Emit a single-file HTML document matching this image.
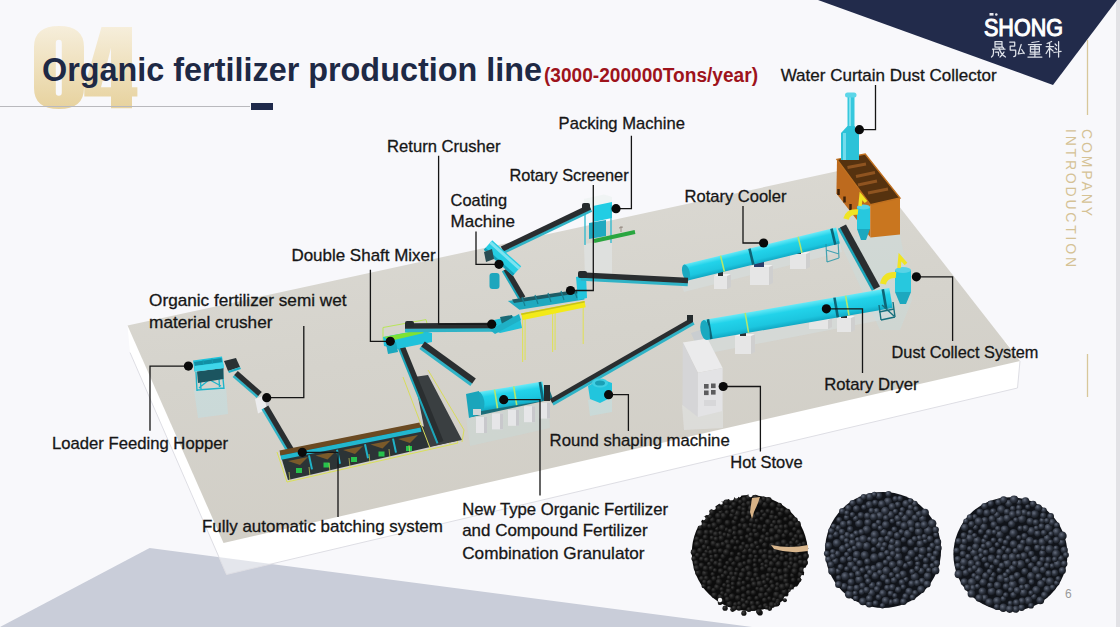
<!DOCTYPE html>
<html><head><meta charset="utf-8"><title>Organic fertilizer production line</title>
<style>
html,body{margin:0;padding:0;background:#f8f8fb;}
body{width:1120px;height:627px;overflow:hidden;position:relative;font-family:"Liberation Sans",sans-serif;}
svg{position:absolute;left:0;top:0;display:block;}
</style></head>
<body>
<svg width="1120" height="627" viewBox="0 0 1120 627" font-family="Liberation Sans, sans-serif">
<defs>
  <linearGradient id="gold" x1="0" y1="0" x2="0" y2="1">
    <stop offset="0" stop-color="#f6eedb"/>
    <stop offset="1" stop-color="#e7d29e"/>
  </linearGradient>
  <linearGradient id="plat" x1="0" y1="0" x2="0.3" y2="1">
    <stop offset="0" stop-color="#dddbd5"/>
    <stop offset="0.55" stop-color="#d5d3cc"/>
    <stop offset="1" stop-color="#d1cec6"/>
  </linearGradient>
  <radialGradient id="gA" cx="0.38" cy="0.35" r="0.7">
    <stop offset="0" stop-color="#3e3e3e"/><stop offset="0.55" stop-color="#1a1a1a"/><stop offset="1" stop-color="#0a0a0a"/>
  </radialGradient>
  <radialGradient id="gB" cx="0.38" cy="0.35" r="0.7">
    <stop offset="0" stop-color="#646c7c"/><stop offset="0.5" stop-color="#2e3440"/><stop offset="1" stop-color="#111419"/>
  </radialGradient>
</defs>

<!-- background -->
<rect width="1120" height="627" fill="#f8f8fb"/>
<rect x="1116" y="0" width="4" height="627" fill="#e2e2e6"/>

<!-- bottom-left gray-blue shape -->
<clipPath id="bgclip"><polygon points="149.6,548 752,627 0,627"/></clipPath>
<polygon points="149.6,548 752,627 0,627" fill="#c9cdd9"/>

<!-- navy triangle -->
<polygon points="818,0 1117,0 1053,85" fill="#222b4b"/>

<!-- gold vertical line -->
<line x1="1087.5" y1="40" x2="1087.5" y2="115" stroke="#d8c79a" stroke-width="1.3"/>
<line x1="1087.5" y1="354" x2="1087.5" y2="397" stroke="#d8c79a" stroke-width="1.3"/>
<g fill="#d5c295" font-size="14" letter-spacing="3">
  <text transform="translate(1082,129) rotate(90)" textLength="90">COMPANY</text>
  <text transform="translate(1065.5,129) rotate(90)" textLength="141">INTRODUCTION</text>
</g>

<!-- 04 -->
<g fill="url(#gold)">
  <path fill-rule="evenodd" d="M34,47 Q34,26 59,26 Q84,26 84,47 L84,88 Q84,109 59,109 Q34,109 34,88 Z M55.8,43 Q55.8,39.7 58.8,39.7 Q61.8,39.7 61.8,43 L61.8,92.5 Q61.8,95.8 58.8,95.8 Q55.8,95.8 55.8,92.5 Z"/>
  <path fill-rule="evenodd" d="M101.5,27 L132,27 L132,87.3 L137.4,87.3 L137.4,96.6 L132,96.6 L132,108.3 L111,108.3 L111,96.6 L84.3,96.6 L84.3,87.3 Z M111,47.8 L111,87.3 L101,87.3 Z"/>
</g>

<!-- title -->
<text x="42" y="80.5" font-size="34" font-weight="bold" fill="#1e2945" textLength="500" lengthAdjust="spacingAndGlyphs">Organic fertilizer production line</text>
<text x="544" y="81.5" font-size="20" font-weight="bold" fill="#9e131b" textLength="214" lengthAdjust="spacingAndGlyphs">(3000-200000Tons/year)</text>

<!-- rule -->
<line x1="0" y1="106.5" x2="250" y2="106.5" stroke="#b9b9bd" stroke-width="1"/>
<rect x="251" y="103" width="22" height="7" fill="#1f2a4b"/>

<!-- logo -->
<g fill="#ffffff">
  <text x="984" y="36" font-size="24" textLength="79" lengthAdjust="spacingAndGlyphs" stroke="#ffffff" stroke-width="1.1">SHONG</text>
  <rect x="989.5" y="13" width="4" height="2.6" fill="#e8e8ee"/><circle cx="996.3" cy="14.5" r="1.3" fill="#e8e8ee"/>
</g>
<g fill="none" stroke="#dfe3ea" stroke-width="1.25" stroke-linecap="round" stroke-linejoin="round">
  <g transform="translate(990.5,41)">
    <path d="M4.5,0.5 H11.5 V6 H4.5 Z M4.5,3.2 H11.5"/>
    <path d="M2,8.2 H14.5 M3,8.2 V12 Q3,14.5 1,16 M5,11 H8 V14.5 M8.5,7 Q10,13 15,16 M13.5,11 Q12,14 9.5,16 M12,6 L13,7"/>
  </g>
  <g transform="translate(1008.7,41)">
    <path d="M1,1 H6 V5 H1.5 V9 H7 V13.5 Q7,15.5 5,15.5"/>
    <path d="M12.5,3.5 L9.5,13 L15.5,12 M13,8.5 L15.5,12.5"/>
  </g>
  <g transform="translate(1026.9,41)">
    <path d="M5,1.5 L12,0.5 M1.5,3.5 H14.5 M3.5,5.5 H12.5 V11 H3.5 Z M3.5,8.2 H12.5 M8,3.5 V15 M3,13 H13 M1,16 H15"/>
  </g>
  <g transform="translate(1045.1,41)">
    <path d="M6.5,0.5 L2,2.5 M1,5.5 H8.5 M4.5,2 V16 M4.5,6.5 L1,12.5 M5,7.5 L8,10"/>
    <path d="M10,3 L11.5,4.5 M10,7 L11.5,8.5 M8.8,11.5 L16,10.3 M13.5,0.5 V16"/>
  </g>
</g>

<!-- PLATFORM -->
<g id="platform">
  <!-- white slab faces -->
  <polygon points="127.5,325.6 130,352.5 226.5,574.5 1017.5,388 1020,361 1005.5,341" fill="#ffffff"/>
  <polygon points="127.5,325.6 130,352.5 226.5,574.5 1017.5,388 1020,361 1005.5,341" fill="#c9cdd9" opacity="0.5" clip-path="url(#bgclip)"/>
  <polyline points="130,352.5 226.5,574.5 1017.5,388 1020,361" fill="none" stroke="#dedee4" stroke-width="1"/>
  <!-- top face -->
  <polygon points="127.5,325.6 866.7,164.8 1020,361 223.5,543" fill="url(#plat)"/>
</g>

<g id="mach">
<polygon points="194,390 226,386 228,414 198,418" fill="#bfe3e8" opacity="0.45"/>
<polygon points="466,418 548,402 550,428 470,446" fill="#bfe3e8" opacity="0.25"/>
<polygon points="588,400 612,396 612,412 590,416" fill="#bfe3e8" opacity="0.5"/>
<polygon points="584,244 612,240 612,275 585,280" fill="#e6eeef" opacity="0.45"/>
<polygon points="682,405 723,411 723,428 684,430" fill="#e2e4e4" opacity="0.6"/>
<polygon points="690,342 890,306 892,318 694,356" fill="#d6e0e2" opacity="0.5"/>
<polygon points="680,282 840,243 842,252 684,292" fill="#d6e0e2" opacity="0.5"/>
<polygon points="838,238 900,234 912,300 900,330 880,330" fill="#c4e0e4" opacity="0.3"/>
<path d="M196,372 L197,391 M200,372 L201,390 M222,368 L224,389 M218.5,369 L219.5,387 M199,374 L221,386 M221,370 L199,388 M197,390 L224,388" stroke="#1eb4ca" stroke-width="1.4" fill="none"/>
<polygon points="197,371.5 223.5,368 223.5,379 198,383" fill="#1b5560"/>
<polygon points="193,360.5 222,356.5 224,368 194.5,371.5" fill="#1ec3db"/>
<polygon points="194,362 221.5,358 222,362 195,366" fill="#128fa5"/>
<path d="M203,360 L204,369 M212,358.5 L213,368" stroke="#129fb4" stroke-width="1"/>
<polygon points="194.5,366 223,362.5 224,368 194.5,371.5" fill="#3fd6ea"/>
<polygon points="224,361 236,358 240,367 228,371" fill="#2a3235"/>
<polygon points="228,371 240,367 241,369 229,373" fill="#1eaec4"/>
<polygon points="234.6,374.7 258.6,395.7 256.6,397.9 232.6,376.9" fill="#30b3c6"/><polygon points="237.8,371 261.8,392 258.2,396 234.2,375" fill="#2a2e30"/>
<polygon points="255,399 264,395.5 267,409 258,413.5" fill="#ececee"/>
<polygon points="264,395.5 269,397.5 270,411 267,409" fill="#c6c6ca"/>
<polygon points="264.1,408.1 290.1,452.1 287.5,453.6 261.5,409.6" fill="#30b3c6"/><polygon points="268.3,405.6 294.3,449.6 289.7,452.4 263.7,408.4" fill="#2a2e30"/>
<polygon points="280,453 420,425 456,441 288,480" fill="#2c3436"/>
<polygon points="279.5,450.5 419.5,422.5 420.5,427.5 280.5,455.5" fill="#6b4a22"/>
<polygon points="280.5,455.4 420.5,427.4 421.4,431.8 281.4,459.8" fill="#22b7ce"/>
<polygon points="288,461 308,457 300,465" fill="#7a5a2a"/>
<rect x="296" y="468" width="6" height="5" fill="#27c24c"/>
<polygon points="315.5,455.5 335.5,451.5 327.5,459.5" fill="#7a5a2a"/>
<rect x="323.5" y="462.5" width="6" height="5" fill="#27c24c"/>
<polygon points="343,450 363,446 355,454" fill="#7a5a2a"/>
<rect x="351" y="457" width="6" height="5" fill="#27c24c"/>
<polygon points="370.5,444.5 390.5,440.5 382.5,448.5" fill="#7a5a2a"/>
<rect x="378.5" y="451.5" width="6" height="5" fill="#27c24c"/>
<polygon points="398,439 418,435 410,443" fill="#7a5a2a"/>
<rect x="406" y="446" width="6" height="5" fill="#27c24c"/>
<path d="M309,455.4 L312,469.4" stroke="#1fb2c8" stroke-width="2"/>
<path d="M337,449.8 L340,463.8" stroke="#1fb2c8" stroke-width="2"/>
<path d="M365,444.2 L368,458.2" stroke="#1fb2c8" stroke-width="2"/>
<path d="M393,438.6 L396,452.6" stroke="#1fb2c8" stroke-width="2"/>
<polyline points="277,452 287,482 458,443 452,430" fill="none" stroke="#d9e05a" stroke-width="1"/>
<path d="M290,481 L289,472 M310,476 L309,467 M330,472 L329,463 M350,467 L349,458 M370,463 L369,454 M390,458 L389,449 M410,454 L409,445 M430,449 L429,440 M450,445 L449,436" stroke="#d9e05a" stroke-width="0.8" opacity="0.8"/>
<polygon points="414,377 428,375 462,440 428,447" fill="#3a3f41"/>
<polyline points="403,377 430,448" fill="none" stroke="#d8dc5c" stroke-width="1"/>
<polyline points="428,370 464,430 462,442" fill="none" stroke="#d8dc5c" stroke-width="1"/>
<polygon points="398,341.8 439,442.8 436.6,443.8 395.6,342.8" fill="#1ca6ba"/><polygon points="402.5,340 443.5,441 438.5,443 397.5,342" fill="#2a2e30"/>
<polyline points="383,341 383,327.5 426,319.6 429,331" fill="none" stroke="#b9e55a" stroke-width="1"/>
<polygon points="383,337 420,330 432,333 432,342 397,349 384,346" fill="#20c2db"/>
<polygon points="384,337 420,330 424,333 390,341" fill="#7fe233"/>
<polygon points="386,344 396,342 398,352 388,354" fill="#1ba8be"/>
<polygon points="421.4,346.1 472.4,383.1 470.4,386 419.4,349" fill="#30b3c6"/><polygon points="424.8,341.5 475.8,378.5 472.2,383.5 421.2,346.5" fill="#2a2e30"/>
<polygon points="405,328.2 497,327.7 497,331.7 405,332.2" fill="#30b3c6"/><polygon points="405,323.3 497,322.8 497,328.2 405,328.7" fill="#2a2e30"/>
<rect x="405" y="321" width="9" height="6" rx="2" fill="#252b2d"/>
<polygon points="494,320 512,316 520,318 522,328 500,333 495,331" fill="#21c0d8"/>
<polygon points="500,317 512,315 514,322 502,324" fill="#1b6a76"/>
<polygon points="468,408 550,391 553,399 472,417" fill="#1b6d79"/>
<rect x="476" y="417" width="11" height="16" fill="#e6e6e8"/><rect x="484" y="417" width="3" height="16" fill="#c8c8cc"/>
<rect x="492" y="413.4" width="11" height="16" fill="#e6e6e8"/><rect x="500" y="413.4" width="3" height="16" fill="#c8c8cc"/>
<rect x="508" y="409.8" width="11" height="16" fill="#e6e6e8"/><rect x="516" y="409.8" width="3" height="16" fill="#c8c8cc"/>
<rect x="524" y="406.2" width="11" height="16" fill="#e6e6e8"/><rect x="532" y="406.2" width="3" height="16" fill="#c8c8cc"/>
<rect x="539" y="402.6" width="11" height="16" fill="#e6e6e8"/><rect x="547" y="402.6" width="3" height="16" fill="#c8c8cc"/>
<linearGradient id="cg1" gradientUnits="userSpaceOnUse" x1="510.5" y1="386.9" x2="513.5" y2="405.6"><stop offset="0" stop-color="#66e9f7"/><stop offset="0.3" stop-color="#22d3ea"/><stop offset="0.75" stop-color="#1cc6df"/><stop offset="1" stop-color="#11a9c4"/></linearGradient><polygon points="478.5,392.1 542.5,381.6 545.5,400.4 481.5,410.9" fill="url(#cg1)"/><polygon points="495.3,389.4 498.3,408.1 496.7,408.4 493.7,389.6" fill="#b5e86a"/><polygon points="514.5,386.2 517.5,405 515.9,405.2 512.9,386.5" fill="#b5e86a"/><polygon points="541.2,381.8 544.3,400.6 541.7,401 538.6,382.3" fill="#0d6577"/><ellipse cx="480" cy="401.5" rx="4.3" ry="9.5" transform="rotate(-9.3 480 401.5)" fill="#1aa9c0"/>
<polygon points="466,394 479,391 481,414 469,418" fill="#1aa5bb"/>
<rect x="473" y="409" width="8" height="6" fill="#d0d6d8"/>
<rect x="544" y="385" width="6" height="16" fill="#252b2d"/>
<polygon points="551.9,402.5 692.9,321.5 694.6,324.6 553.6,405.6" fill="#30b3c6"/><polygon points="549.9,399 690.9,318 693.1,322 552.1,403" fill="#2a2e30"/>
<rect x="687" y="315" width="6" height="7" fill="#252b2d"/>
<polygon points="588,386 601,379 612,383 612,397 600,403 590,399" fill="#22c5dd"/>
<ellipse cx="600" cy="383" rx="8" ry="4.5" fill="#3fcfe3"/>
<ellipse cx="600" cy="383" rx="5" ry="2.6" fill="#1a9fb5"/>
<polygon points="691,333 706,328 710,336 695,342" fill="#c9cdd0"/>
<polygon points="682.8,342.5 707.5,338.6 722.6,368 697.9,372.8" fill="#ebebec"/>
<polygon points="682.8,342.5 697.9,372.8 697.9,417 682.5,405" fill="#d5d5d7"/>
<polygon points="697.9,372.8 722.6,368 722.6,411 697.9,417" fill="#e3e3e5"/>
<rect x="704" y="384" width="4.6" height="4.6" fill="#5c5c5e"/>
<rect x="711" y="383.5" width="4.6" height="4.6" fill="#5c5c5e"/>
<rect x="704" y="390.5" width="4.6" height="4.6" fill="#5c5c5e"/>
<rect x="711" y="390" width="4.6" height="4.6" fill="#5c5c5e"/>
<rect x="704" y="400" width="12" height="6" fill="#cfcfd1" opacity="0.6"/>
<rect x="735" y="336" width="16" height="18" fill="#e6e6e6"/><polygon points="751,336 755,334 755,352 751,354" fill="#cfcfcf"/><polygon points="735,336 739,334 755,334 751,336" fill="#f2f2f2"/>
<rect x="809" y="320" width="19" height="9" fill="#e6e6e6"/><polygon points="828,320 832,318 832,327 828,329" fill="#cfcfcf"/><polygon points="809,320 813,318 832,318 828,320" fill="#f2f2f2"/>
<rect x="837" y="318" width="14" height="14" fill="#e6e6e6"/><polygon points="851,318 855,316 855,330 851,332" fill="#cfcfcf"/><polygon points="837,318 841,316 855,316 851,318" fill="#f2f2f2"/>
<rect x="740" y="332" width="6" height="4" fill="#2b3033"/><rect x="841" y="314" width="6" height="4" fill="#2b3033"/>
<linearGradient id="cg2" gradientUnits="userSpaceOnUse" x1="796.3" y1="304.1" x2="799.7" y2="323.9"><stop offset="0" stop-color="#66e9f7"/><stop offset="0.3" stop-color="#22d3ea"/><stop offset="0.75" stop-color="#1cc6df"/><stop offset="1" stop-color="#11a9c4"/></linearGradient><polygon points="703.3,320.1 889.3,288.1 892.7,307.9 706.7,339.9" fill="url(#cg2)"/><polygon points="745.9,312.8 749.3,332.5 747.8,332.8 744.4,313.1" fill="#b5e86a"/><polygon points="846.4,295.5 849.8,315.2 848.2,315.5 844.8,295.8" fill="#b5e86a"/><polygon points="709.2,319.1 712.6,338.8 710.1,339.3 706.7,319.6" fill="#0d6577"/><polygon points="835.7,297.4 839.1,317.1 836.5,317.5 833.2,297.8" fill="#0d6577"/><polygon points="884.1,289 887.5,308.8 884.9,309.2 881.5,289.5" fill="#0d6577"/><ellipse cx="705" cy="330" rx="4.5" ry="10" transform="rotate(-9.8 705 330)" fill="#1aa9c0"/>
<path d="M879,305 L881,320 M893,302 L895,317 M881,320 L895,317 M879,312 L894,309 M882,305 L894,316" stroke="#16707d" stroke-width="1.4" fill="none"/>
<rect x="714" y="276" width="13" height="13" fill="#e6e6e6"/><polygon points="727,276 731,274 731,287 727,289" fill="#cfcfcf"/><polygon points="714,276 718,274 731,274 727,276" fill="#f2f2f2"/>
<rect x="750" y="267" width="19" height="18" fill="#e6e6e6"/><polygon points="769,267 773,265 773,283 769,285" fill="#cfcfcf"/><polygon points="750,267 754,265 773,265 769,267" fill="#f2f2f2"/>
<rect x="790" y="254" width="16" height="15" fill="#e6e6e6"/><polygon points="806,254 810,252 810,267 806,269" fill="#cfcfcf"/><polygon points="790,254 794,252 810,252 806,254" fill="#f2f2f2"/>
<rect x="754" y="262" width="10" height="5" fill="#2b3d6a"/><rect x="794" y="250" width="7" height="4" fill="#2b3033"/><rect x="718" y="272" width="5" height="4" fill="#2b3033"/>
<linearGradient id="cg3" gradientUnits="userSpaceOnUse" x1="760.1" y1="246" x2="763.9" y2="262"><stop offset="0" stop-color="#66e9f7"/><stop offset="0.3" stop-color="#22d3ea"/><stop offset="0.75" stop-color="#1cc6df"/><stop offset="1" stop-color="#11a9c4"/></linearGradient><polygon points="684.1,264.5 836.1,227.5 839.9,243.5 687.9,280.5" fill="url(#cg3)"/><polygon points="721.3,255.5 725.2,271.4 723.6,271.8 719.8,255.8" fill="#b5e86a"/><polygon points="798.8,236.6 802.7,252.5 801.2,252.9 797.3,237" fill="#b5e86a"/><polygon points="750.7,248.3 754.6,264.2 752,264.9 748.2,248.9" fill="#0d6577"/><polygon points="832.8,228.3 836.6,244.3 834.1,244.9 830.2,229" fill="#0d6577"/><ellipse cx="686" cy="272.5" rx="3.7" ry="8.2" transform="rotate(-13.7 686 272.5)" fill="#1aa9c0"/>
<path d="M826,244 L827,262 M838,241 L839,258 M827,262 L839,258 M826,250 L839,254" stroke="#1d94a8" stroke-width="1.2" fill="none" opacity="0.8"/>
<polygon points="840.5,227.4 874.5,289.4 871.8,290.8 837.8,228.8" fill="#1ca6ba"/><polygon points="846,224.4 880,286.4 874,289.6 840,227.6" fill="#2a2e30"/>
<polygon points="837,159.4 870.5,204.8 870.5,237.4 836.4,193.5" fill="#bd6a1e"/>
<polygon points="870.5,204.8 900,198 900,234.4 870.5,237.4" fill="#c9761f"/>
<polygon points="837,159.4 865.2,154.1 900,198 870.5,204.8" fill="#56320f"/>
<path d="M847.5,167.5 L866,164 M856,176.5 L875,172.5 M858,185 L877,181 M868,193 L888,189" stroke="#8f5420" stroke-width="3"/>
<polygon points="837,159.4 865.2,154.1 900,198 870.5,204.8" fill="none" stroke="#c0701f" stroke-width="1.4"/>
<path d="M838.5,189 v6 M844.5,196.5 v6 M850.5,204 v6" stroke="#3e220a" stroke-width="2.5"/>
<rect x="847.5" y="97" width="7" height="30" fill="#37c8dd"/>
<rect x="849" y="97" width="2" height="30" fill="#7fe0ee"/>
<rect x="845" y="92.5" width="11.5" height="5" rx="2.5" fill="#5dd6e8"/>
<polygon points="847.5,126 854.5,126 859,133 859,160 841,160 841,133" fill="#2cc2d8"/>
<rect x="843" y="133" width="3" height="27" fill="#72dced"/>
<rect x="857" y="207" width="13" height="22" fill="#27c8de"/>
<ellipse cx="863.5" cy="207" rx="6.5" ry="2.5" fill="#58d3e6"/>
<polygon points="857,229 870,229 866,240 861,240" fill="#1ca8bf"/>
<path d="M846,219 Q848,211 858,212" stroke="#f0e424" stroke-width="5.5" fill="none"/>
<path d="M860,206 L861,196 L866,202" stroke="#f0e424" stroke-width="3.5" fill="none"/>
<rect x="895" y="270" width="16" height="22" fill="#27c8de"/>
<ellipse cx="903" cy="270" rx="8" ry="3" fill="#58d3e6"/>
<polygon points="895,292 911,292 906,304 900,304" fill="#1ca8bf"/>
<path d="M883,284 Q885,274 896,275" stroke="#f0e424" stroke-width="6" fill="none"/>
<path d="M899,268 L900,257 L906,264" stroke="#f0e424" stroke-width="3.5" fill="none"/>
<polygon points="584,199 604,194.5 612,197 612,205 592,209 584,207" fill="#eef3f3" opacity="0.9"/>
<polygon points="593,206 612,202 612,218 593,222" fill="#22cde4"/>
<polygon points="589,223 606,220 606,236 589,239" fill="#20a9c0"/>
<path d="M585,208 L585,245 M611,205 L611,243" stroke="#2ab8cd" stroke-width="1.3"/>
<polygon points="593.6,239 634.6,230 635.4,234 594.4,243" fill="#2aa640"/>
<path d="M621,232 L621,226 M619,228 L623,227" stroke="#9a8f86" stroke-width="1"/>
<polygon points="502.9,251 590.9,209 592.2,211.7 504.2,253.7" fill="#30b3c6"/><polygon points="500.8,246.6 588.8,204.6 591.2,209.4 503.2,251.4" fill="#2a2e30"/>
<rect x="582" y="203" width="8" height="7" rx="2" fill="#252b2d"/>
<polygon points="504.1,270.1 521.1,299.1 518.9,300.4 501.9,271.4" fill="#1ca6ba"/><polygon points="508.3,267.6 525.3,296.6 520.7,299.4 503.7,270.4" fill="#2a2e30"/>
<polygon points="492.2,240.3 521.2,266.3 512.8,275.7 483.8,249.7" fill="#26cde3"/>
<polygon points="491.3,241.3 520.3,267.3 518.3,269.5 489.3,243.5" fill="#7de3f0"/>
<polygon points="485.5,247.8 514.5,273.8 512.8,275.7 483.8,249.7" fill="#159fb6"/>
<rect x="489.5" y="273" width="10" height="16" rx="3" fill="#1ea6bd"/>
<polygon points="484,252 492,249 494,259 486,262" fill="#2a4c52"/>
<polygon points="507.9,300.9 581.9,289.4 584.5,299.6 519.4,309.8" fill="#1fa9bf"/>
<polygon points="512,299.5 579,289.5 580,293 514,303" fill="#1d5c66"/>
<path d="M522,297 L525,306 M535,295 L538,304 M548,293 L551,302 M561,291 L564,300 M574,289 L577,298" stroke="#177f90" stroke-width="1.2"/>
<polygon points="576,277 586,275 587,298 578,300" fill="#22c5dd"/>
<path d="M522.6,316 L522.6,362 M525.1,316 L525.1,360 M552.6,310 L552.6,352 M555.1,310 L555.1,350 M583.2,304 L583.2,344" stroke="#dfe05e" stroke-width="1.1"/>
<polygon points="521,313.6 584.5,300.9 585.7,307.2 523,320" fill="#f3ea17"/>
<polygon points="521,313.6 584.5,300.9 584.7,302.5 521.5,315" fill="#c7c21a"/>
<polygon points="490,330 519,314 521,320 495,334" fill="#1fb0c6"/>
<polygon points="580.9,277.2 687.9,282.7 687.7,286.2 580.7,280.7" fill="#30b3c6"/><polygon points="581.1,272.3 688.1,277.8 687.9,283.2 580.9,277.7" fill="#2a2e30"/>
<rect x="578" y="271" width="9" height="7" rx="2" fill="#252b2d"/>
</g>
<g id="lead">
<polyline points="859.4,129.7 875.5,129.7 875.5,85" fill="none" stroke="#151515" stroke-width="1.3"/>
<circle cx="859.4" cy="129.7" r="4.6" fill="#0a0a0a"/>
<polyline points="616,208.7 631.4,208.7 631.4,135.7" fill="none" stroke="#151515" stroke-width="1.3"/>
<circle cx="616" cy="208.7" r="4.6" fill="#0a0a0a"/>
<polyline points="491.7,324.2 438.6,324.2 438.6,155.7" fill="none" stroke="#151515" stroke-width="1.3"/>
<circle cx="491.7" cy="324.2" r="4.6" fill="#0a0a0a"/>
<polyline points="570.5,290.5 593.3,290.5 593.3,185" fill="none" stroke="#151515" stroke-width="1.3"/>
<circle cx="570.5" cy="290.5" r="4.6" fill="#0a0a0a"/>
<polyline points="499,264.3 476,264.3 476,231.4" fill="none" stroke="#151515" stroke-width="1.3"/>
<circle cx="499" cy="264.3" r="4.6" fill="#0a0a0a"/>
<polyline points="763.6,243 743,243 743,206" fill="none" stroke="#151515" stroke-width="1.3"/>
<circle cx="763.6" cy="243" r="4.6" fill="#0a0a0a"/>
<polyline points="390.3,341.3 370.4,341.3 370.4,269.7" fill="none" stroke="#151515" stroke-width="1.3"/>
<circle cx="390.3" cy="341.3" r="4.6" fill="#0a0a0a"/>
<polyline points="266.7,397.7 303.8,397.7 303.8,326" fill="none" stroke="#151515" stroke-width="1.3"/>
<circle cx="266.7" cy="397.7" r="4.6" fill="#0a0a0a"/>
<polyline points="188.4,366.1 150,366.1 150,430.7" fill="none" stroke="#151515" stroke-width="1.3"/>
<circle cx="188.4" cy="366.1" r="4.6" fill="#0a0a0a"/>
<polyline points="302.3,452.3 338,452.3 338,517" fill="none" stroke="#151515" stroke-width="1.3"/>
<circle cx="302.3" cy="452.3" r="4.6" fill="#0a0a0a"/>
<polyline points="503.7,399.7 540,399.7 540,495.5" fill="none" stroke="#151515" stroke-width="1.3"/>
<circle cx="503.7" cy="399.7" r="4.6" fill="#0a0a0a"/>
<polyline points="608.6,394.7 628.4,394.7 628.4,431" fill="none" stroke="#151515" stroke-width="1.3"/>
<circle cx="608.6" cy="394.7" r="4.6" fill="#0a0a0a"/>
<polyline points="723.2,386.5 760.4,386.5 760.4,451.5" fill="none" stroke="#151515" stroke-width="1.3"/>
<circle cx="723.2" cy="386.5" r="4.6" fill="#0a0a0a"/>
<polyline points="826.4,308.8 862.5,308.8 862.5,373" fill="none" stroke="#151515" stroke-width="1.3"/>
<circle cx="826.4" cy="308.8" r="4.6" fill="#0a0a0a"/>
<polyline points="916.4,276.8 952.6,276.8 952.6,341" fill="none" stroke="#151515" stroke-width="1.3"/>
<circle cx="916.4" cy="276.8" r="4.6" fill="#0a0a0a"/>
</g>
<g id="lab" font-size="17" fill="#161616" stroke="#161616" stroke-width="0.3">
<text x="780.7" y="81.1" textLength="216" lengthAdjust="spacingAndGlyphs">Water Curtain Dust Collector</text>
<text x="558.6" y="129.1" textLength="126.3" lengthAdjust="spacingAndGlyphs">Packing Machine</text>
<text x="387.1" y="152.3" textLength="113.5" lengthAdjust="spacingAndGlyphs">Return Crusher</text>
<text x="509.4" y="180.6" textLength="119.2" lengthAdjust="spacingAndGlyphs">Rotary Screener</text>
<text x="450.6" y="206.3" textLength="56.5" lengthAdjust="spacingAndGlyphs">Coating</text>
<text x="450.6" y="227.1" textLength="64.3" lengthAdjust="spacingAndGlyphs">Machine</text>
<text x="684.5" y="201.5" textLength="102" lengthAdjust="spacingAndGlyphs">Rotary Cooler</text>
<text x="291.4" y="261.4" textLength="144.3" lengthAdjust="spacingAndGlyphs">Double Shaft Mixer</text>
<text x="149.1" y="306.4" textLength="197.4" lengthAdjust="spacingAndGlyphs">Organic fertilizer semi wet</text>
<text x="149.1" y="328.2" textLength="123.4" lengthAdjust="spacingAndGlyphs">material crusher</text>
<text x="52" y="448.8" textLength="176" lengthAdjust="spacingAndGlyphs">Loader Feeding Hopper</text>
<text x="202" y="532.3" textLength="240.9" lengthAdjust="spacingAndGlyphs">Fully automatic batching system</text>
<text x="549.6" y="446.4" textLength="180.1" lengthAdjust="spacingAndGlyphs">Round shaping machine</text>
<text x="730.3" y="468.2" textLength="72.3" lengthAdjust="spacingAndGlyphs">Hot Stove</text>
<text x="462.2" y="514.8" textLength="205.8" lengthAdjust="spacingAndGlyphs">New Type Organic Fertilizer</text>
<text x="462.2" y="536.4" textLength="185.5" lengthAdjust="spacingAndGlyphs">and Compound Fertilizer</text>
<text x="462.2" y="558.9" textLength="182.3" lengthAdjust="spacingAndGlyphs">Combination Granulator</text>
<text x="824.2" y="390.4" textLength="94.5" lengthAdjust="spacingAndGlyphs">Rotary Dryer</text>
<text x="891.6" y="358" textLength="146.8" lengthAdjust="spacingAndGlyphs">Dust Collect System</text>
</g>
<!-- granule circles -->
<circle cx="749.8" cy="553" r="58" fill="#0c0c0c"/>
<circle cx="784.4" cy="591.9" r="3.1" fill="url(#gA)"/>
<circle cx="748.5" cy="592.7" r="2.8" fill="url(#gA)"/>
<circle cx="720.7" cy="512.1" r="2.4" fill="url(#gA)"/>
<circle cx="800.6" cy="562.2" r="2.8" fill="url(#gA)"/>
<circle cx="750" cy="550.4" r="2.8" fill="url(#gA)"/>
<circle cx="745" cy="526.4" r="3.3" fill="url(#gA)"/>
<circle cx="757.8" cy="547.3" r="2.3" fill="url(#gA)"/>
<circle cx="696.9" cy="538.9" r="2.7" fill="url(#gA)"/>
<circle cx="757.4" cy="588.9" r="2.3" fill="url(#gA)"/>
<circle cx="752.7" cy="580" r="2.5" fill="url(#gA)"/>
<circle cx="720.4" cy="560.6" r="2.3" fill="url(#gA)"/>
<circle cx="771.8" cy="517.1" r="3" fill="url(#gA)"/>
<circle cx="771.9" cy="604.8" r="3.2" fill="url(#gA)"/>
<circle cx="773.4" cy="575.4" r="3.1" fill="url(#gA)"/>
<circle cx="736.6" cy="499.9" r="2.8" fill="url(#gA)"/>
<circle cx="772.1" cy="512.5" r="2.6" fill="url(#gA)"/>
<circle cx="704.6" cy="525.2" r="3.2" fill="url(#gA)"/>
<circle cx="706.5" cy="551.6" r="2.3" fill="url(#gA)"/>
<circle cx="752.1" cy="603.4" r="2.8" fill="url(#gA)"/>
<circle cx="769.3" cy="590.1" r="3.1" fill="url(#gA)"/>
<circle cx="734" cy="522.2" r="2.8" fill="url(#gA)"/>
<circle cx="700" cy="550.4" r="2.9" fill="url(#gA)"/>
<circle cx="718.8" cy="577.6" r="2.3" fill="url(#gA)"/>
<circle cx="795.4" cy="565.8" r="3.4" fill="url(#gA)"/>
<circle cx="720.3" cy="533.4" r="2.5" fill="url(#gA)"/>
<circle cx="693.8" cy="552.2" r="3.1" fill="url(#gA)"/>
<circle cx="772.6" cy="504.9" r="3.1" fill="url(#gA)"/>
<circle cx="764.6" cy="515.1" r="2.9" fill="url(#gA)"/>
<circle cx="737.8" cy="559" r="3.3" fill="url(#gA)"/>
<circle cx="726.9" cy="542.2" r="2.9" fill="url(#gA)"/>
<circle cx="716.2" cy="556.2" r="2.7" fill="url(#gA)"/>
<circle cx="706.5" cy="542.3" r="3" fill="url(#gA)"/>
<circle cx="764.9" cy="504.9" r="3.2" fill="url(#gA)"/>
<circle cx="756.1" cy="556.6" r="2.3" fill="url(#gA)"/>
<circle cx="750.8" cy="524.8" r="2.4" fill="url(#gA)"/>
<circle cx="726.3" cy="529.6" r="2.4" fill="url(#gA)"/>
<circle cx="743" cy="600.2" r="2.8" fill="url(#gA)"/>
<circle cx="732.8" cy="588" r="2.3" fill="url(#gA)"/>
<circle cx="791.4" cy="586.8" r="2.9" fill="url(#gA)"/>
<circle cx="761" cy="595.5" r="3.2" fill="url(#gA)"/>
<circle cx="731.6" cy="515.5" r="2.5" fill="url(#gA)"/>
<circle cx="799.7" cy="545.3" r="2.9" fill="url(#gA)"/>
<circle cx="721.3" cy="538.3" r="3" fill="url(#gA)"/>
<circle cx="778.6" cy="564.1" r="3.4" fill="url(#gA)"/>
<circle cx="772" cy="531" r="3.2" fill="url(#gA)"/>
<circle cx="729.5" cy="603.9" r="3.1" fill="url(#gA)"/>
<circle cx="725.3" cy="567.3" r="2.3" fill="url(#gA)"/>
<circle cx="791.3" cy="543" r="2.5" fill="url(#gA)"/>
<circle cx="787.4" cy="511.8" r="3.1" fill="url(#gA)"/>
<circle cx="715.1" cy="551.1" r="2.7" fill="url(#gA)"/>
<circle cx="756.1" cy="570.1" r="3" fill="url(#gA)"/>
<circle cx="738.4" cy="591.3" r="2.7" fill="url(#gA)"/>
<circle cx="759.6" cy="583.8" r="3.4" fill="url(#gA)"/>
<circle cx="756.5" cy="520.8" r="2.5" fill="url(#gA)"/>
<circle cx="726.2" cy="507" r="3.3" fill="url(#gA)"/>
<circle cx="720.3" cy="597.1" r="3.1" fill="url(#gA)"/>
<circle cx="694" cy="558.5" r="2.6" fill="url(#gA)"/>
<circle cx="747.3" cy="536.8" r="2.5" fill="url(#gA)"/>
<circle cx="771.9" cy="539.2" r="3.1" fill="url(#gA)"/>
<circle cx="733.4" cy="578.7" r="3.3" fill="url(#gA)"/>
<circle cx="706" cy="519.5" r="3.3" fill="url(#gA)"/>
<circle cx="777.5" cy="584.5" r="2.4" fill="url(#gA)"/>
<circle cx="764.6" cy="556.7" r="3.3" fill="url(#gA)"/>
<circle cx="712.4" cy="519.9" r="2.7" fill="url(#gA)"/>
<circle cx="744.2" cy="606" r="2.9" fill="url(#gA)"/>
<circle cx="783.9" cy="535.7" r="2.6" fill="url(#gA)"/>
<circle cx="741.6" cy="538" r="2.4" fill="url(#gA)"/>
<circle cx="786.4" cy="550.3" r="2.4" fill="url(#gA)"/>
<circle cx="763.6" cy="577.1" r="3.1" fill="url(#gA)"/>
<circle cx="743.3" cy="543.8" r="2.3" fill="url(#gA)"/>
<circle cx="780.3" cy="549.6" r="3" fill="url(#gA)"/>
<circle cx="797.4" cy="524.2" r="3.4" fill="url(#gA)"/>
<circle cx="769.9" cy="569.9" r="3" fill="url(#gA)"/>
<circle cx="791.1" cy="547.8" r="3.1" fill="url(#gA)"/>
<circle cx="734.7" cy="528.5" r="2.9" fill="url(#gA)"/>
<circle cx="739.9" cy="579.2" r="2.4" fill="url(#gA)"/>
<circle cx="739" cy="608" r="2.8" fill="url(#gA)"/>
<circle cx="723.6" cy="516" r="3.3" fill="url(#gA)"/>
<circle cx="725.6" cy="572.9" r="2.7" fill="url(#gA)"/>
<circle cx="739.2" cy="583.9" r="2.9" fill="url(#gA)"/>
<circle cx="711.4" cy="532.2" r="2.6" fill="url(#gA)"/>
<circle cx="777.5" cy="556.6" r="2.4" fill="url(#gA)"/>
<circle cx="735.5" cy="548.2" r="2.4" fill="url(#gA)"/>
<circle cx="697.4" cy="555.2" r="2.5" fill="url(#gA)"/>
<circle cx="772.1" cy="545.6" r="3.2" fill="url(#gA)"/>
<circle cx="781.5" cy="578.2" r="3.3" fill="url(#gA)"/>
<circle cx="735.4" cy="604.4" r="2.5" fill="url(#gA)"/>
<circle cx="791.4" cy="524" r="3.3" fill="url(#gA)"/>
<circle cx="766" cy="586.4" r="2.5" fill="url(#gA)"/>
<circle cx="739.7" cy="508" r="2.6" fill="url(#gA)"/>
<circle cx="800.8" cy="574.8" r="3.2" fill="url(#gA)"/>
<circle cx="715.8" cy="563.3" r="2.7" fill="url(#gA)"/>
<circle cx="749.4" cy="561.8" r="3" fill="url(#gA)"/>
<circle cx="712.8" cy="574.3" r="2.4" fill="url(#gA)"/>
<circle cx="736.9" cy="569.6" r="2.4" fill="url(#gA)"/>
<circle cx="713.9" cy="578.7" r="2.6" fill="url(#gA)"/>
<circle cx="790.8" cy="554.9" r="2.9" fill="url(#gA)"/>
<circle cx="727.6" cy="522.9" r="3.1" fill="url(#gA)"/>
<circle cx="723.2" cy="556.6" r="2.8" fill="url(#gA)"/>
<circle cx="699.8" cy="533.1" r="3.3" fill="url(#gA)"/>
<circle cx="786.2" cy="570.6" r="3.3" fill="url(#gA)"/>
<circle cx="776.4" cy="594.7" r="3.3" fill="url(#gA)"/>
<circle cx="732" cy="596.5" r="3.2" fill="url(#gA)"/>
<circle cx="717.1" cy="587.2" r="3.1" fill="url(#gA)"/>
<circle cx="750.4" cy="540.1" r="3" fill="url(#gA)"/>
<circle cx="743" cy="520.4" r="2.9" fill="url(#gA)"/>
<circle cx="733.5" cy="563.6" r="2.6" fill="url(#gA)"/>
<circle cx="719.2" cy="521.4" r="3.2" fill="url(#gA)"/>
<circle cx="743.5" cy="595.8" r="2.6" fill="url(#gA)"/>
<circle cx="780.3" cy="514" r="2.9" fill="url(#gA)"/>
<circle cx="756.7" cy="534.8" r="3.1" fill="url(#gA)"/>
<circle cx="724.3" cy="585.2" r="2.3" fill="url(#gA)"/>
<circle cx="709.5" cy="582.5" r="3.1" fill="url(#gA)"/>
<circle cx="704.4" cy="555.2" r="2.7" fill="url(#gA)"/>
<circle cx="750.8" cy="556.4" r="2.6" fill="url(#gA)"/>
<circle cx="768.1" cy="521.9" r="3.1" fill="url(#gA)"/>
<circle cx="744.4" cy="499.7" r="3.1" fill="url(#gA)"/>
<circle cx="760.3" cy="502.1" r="3.1" fill="url(#gA)"/>
<circle cx="728.6" cy="547" r="3.2" fill="url(#gA)"/>
<circle cx="711.4" cy="556.7" r="2.3" fill="url(#gA)"/>
<circle cx="721.7" cy="589.2" r="2.3" fill="url(#gA)"/>
<circle cx="748" cy="568.4" r="3.2" fill="url(#gA)"/>
<circle cx="728.8" cy="535.7" r="2.9" fill="url(#gA)"/>
<circle cx="785.8" cy="526.7" r="2.6" fill="url(#gA)"/>
<circle cx="705" cy="573.5" r="3.2" fill="url(#gA)"/>
<circle cx="766.3" cy="594.5" r="2.5" fill="url(#gA)"/>
<circle cx="743.8" cy="509.4" r="2.6" fill="url(#gA)"/>
<circle cx="743.5" cy="570.3" r="2.7" fill="url(#gA)"/>
<circle cx="732" cy="553.9" r="2.5" fill="url(#gA)"/>
<circle cx="728.8" cy="591.1" r="3.3" fill="url(#gA)"/>
<circle cx="785.7" cy="519.3" r="2.5" fill="url(#gA)"/>
<circle cx="756.1" cy="543.2" r="2.6" fill="url(#gA)"/>
<circle cx="762.4" cy="564.5" r="2.3" fill="url(#gA)"/>
<circle cx="718.1" cy="515.9" r="3.1" fill="url(#gA)"/>
<circle cx="712" cy="512.2" r="3" fill="url(#gA)"/>
<circle cx="711.9" cy="537.9" r="2.4" fill="url(#gA)"/>
<circle cx="727.9" cy="581.9" r="2.5" fill="url(#gA)"/>
<circle cx="776.6" cy="527.8" r="3" fill="url(#gA)"/>
<circle cx="781.4" cy="597" r="3.2" fill="url(#gA)"/>
<circle cx="761.1" cy="551.9" r="2.9" fill="url(#gA)"/>
<circle cx="730.8" cy="560" r="2.7" fill="url(#gA)"/>
<circle cx="785.9" cy="580.9" r="2.8" fill="url(#gA)"/>
<circle cx="737.3" cy="513.6" r="3.3" fill="url(#gA)"/>
<circle cx="764.8" cy="526.4" r="2.5" fill="url(#gA)"/>
<circle cx="767.9" cy="511.2" r="2.6" fill="url(#gA)"/>
<circle cx="749.4" cy="513" r="2.9" fill="url(#gA)"/>
<circle cx="794.5" cy="529.3" r="2.4" fill="url(#gA)"/>
<circle cx="714.4" cy="594.9" r="3" fill="url(#gA)"/>
<circle cx="774.1" cy="599.5" r="2.3" fill="url(#gA)"/>
<circle cx="748.8" cy="503.4" r="2.9" fill="url(#gA)"/>
<circle cx="762.2" cy="511.6" r="2.3" fill="url(#gA)"/>
<circle cx="748.7" cy="497.3" r="2.9" fill="url(#gA)"/>
<circle cx="799.1" cy="532.2" r="3" fill="url(#gA)"/>
<circle cx="783.9" cy="542.4" r="3.1" fill="url(#gA)"/>
<circle cx="779.9" cy="571.4" r="3" fill="url(#gA)"/>
<circle cx="709.2" cy="588.2" r="2.5" fill="url(#gA)"/>
<circle cx="751.8" cy="520.3" r="2.8" fill="url(#gA)"/>
<circle cx="805.9" cy="556" r="3" fill="url(#gA)"/>
<circle cx="713.5" cy="543.6" r="3.1" fill="url(#gA)"/>
<circle cx="771.4" cy="582.2" r="2.6" fill="url(#gA)"/>
<circle cx="740" cy="525.5" r="2.5" fill="url(#gA)"/>
<circle cx="768" cy="575.1" r="2.4" fill="url(#gA)"/>
<circle cx="737.5" cy="542.1" r="2.5" fill="url(#gA)"/>
<circle cx="726.1" cy="502.2" r="2.7" fill="url(#gA)"/>
<circle cx="717.1" cy="528.9" r="2.3" fill="url(#gA)"/>
<circle cx="755.6" cy="506.7" r="2.3" fill="url(#gA)"/>
<circle cx="792.3" cy="575.5" r="2.4" fill="url(#gA)"/>
<circle cx="770.5" cy="557.1" r="2.7" fill="url(#gA)"/>
<circle cx="791.1" cy="534.7" r="2.6" fill="url(#gA)"/>
<circle cx="740.6" cy="532.7" r="3.3" fill="url(#gA)"/>
<circle cx="778.1" cy="509.3" r="2.7" fill="url(#gA)"/>
<circle cx="801.6" cy="537" r="3" fill="url(#gA)"/>
<circle cx="719" cy="582.1" r="3.3" fill="url(#gA)"/>
<circle cx="701.5" cy="565.5" r="3" fill="url(#gA)"/>
<circle cx="701.6" cy="578.6" r="2.7" fill="url(#gA)"/>
<circle cx="759.7" cy="527.2" r="2.9" fill="url(#gA)"/>
<circle cx="777.2" cy="537.1" r="3.3" fill="url(#gA)"/>
<circle cx="711.1" cy="568.2" r="2.9" fill="url(#gA)"/>
<circle cx="771.4" cy="563.9" r="3.1" fill="url(#gA)"/>
<circle cx="768.4" cy="500.2" r="3.3" fill="url(#gA)"/>
<circle cx="743.4" cy="588.9" r="3" fill="url(#gA)"/>
<circle cx="730.4" cy="569.2" r="3.2" fill="url(#gA)"/>
<circle cx="748.7" cy="586.4" r="2.6" fill="url(#gA)"/>
<circle cx="779.6" cy="522.1" r="2.9" fill="url(#gA)"/>
<circle cx="732.7" cy="542" r="2.9" fill="url(#gA)"/>
<circle cx="793.4" cy="580.1" r="2.5" fill="url(#gA)"/>
<circle cx="764.6" cy="600.1" r="2.7" fill="url(#gA)"/>
<circle cx="754.1" cy="516.6" r="2.6" fill="url(#gA)"/>
<circle cx="698.2" cy="572.8" r="3" fill="url(#gA)"/>
<circle cx="801.4" cy="549.9" r="2.7" fill="url(#gA)"/>
<circle cx="696.1" cy="563" r="2.9" fill="url(#gA)"/>
<circle cx="776.1" cy="517.6" r="2.3" fill="url(#gA)"/>
<circle cx="747.7" cy="578.8" r="2.6" fill="url(#gA)"/>
<circle cx="701.6" cy="559" r="2.6" fill="url(#gA)"/>
<circle cx="762.9" cy="537.1" r="2.8" fill="url(#gA)"/>
<circle cx="760.1" cy="606.6" r="2.3" fill="url(#gA)"/>
<circle cx="744.7" cy="551.3" r="3.1" fill="url(#gA)"/>
<circle cx="715" cy="570.4" r="2.3" fill="url(#gA)"/>
<circle cx="767.5" cy="534.2" r="2.4" fill="url(#gA)"/>
<circle cx="782.3" cy="586.9" r="3.4" fill="url(#gA)"/>
<circle cx="797.2" cy="553.4" r="2.6" fill="url(#gA)"/>
<circle cx="794.5" cy="571.3" r="3.2" fill="url(#gA)"/>
<circle cx="722.9" cy="544.1" r="2.6" fill="url(#gA)"/>
<circle cx="743.8" cy="557" r="2.5" fill="url(#gA)"/>
<circle cx="735.3" cy="538.1" r="2.4" fill="url(#gA)"/>
<circle cx="789.8" cy="590.8" r="2.3" fill="url(#gA)"/>
<circle cx="802" cy="569.8" r="3.1" fill="url(#gA)"/>
<circle cx="754.1" cy="584.2" r="2.9" fill="url(#gA)"/>
<circle cx="715.8" cy="534.1" r="2.9" fill="url(#gA)"/>
<circle cx="755.7" cy="575.1" r="2.7" fill="url(#gA)"/>
<circle cx="734.3" cy="533.3" r="2.7" fill="url(#gA)"/>
<circle cx="739.1" cy="554.3" r="2.4" fill="url(#gA)"/>
<circle cx="748.7" cy="530.1" r="2.9" fill="url(#gA)"/>
<circle cx="805.9" cy="548.6" r="2.4" fill="url(#gA)"/>
<circle cx="709.3" cy="564" r="2.5" fill="url(#gA)"/>
<circle cx="722.2" cy="527.7" r="3.2" fill="url(#gA)"/>
<circle cx="757.8" cy="603.3" r="2.5" fill="url(#gA)"/>
<circle cx="760.1" cy="560.8" r="2.5" fill="url(#gA)"/>
<circle cx="764" cy="530.5" r="2.4" fill="url(#gA)"/>
<circle cx="803.9" cy="543.8" r="2.5" fill="url(#gA)"/>
<circle cx="753.5" cy="592.7" r="2.8" fill="url(#gA)"/>
<circle cx="764.8" cy="545.1" r="2.9" fill="url(#gA)"/>
<circle cx="720.7" cy="571.1" r="2.9" fill="url(#gA)"/>
<circle cx="795.6" cy="559" r="2.8" fill="url(#gA)"/>
<circle cx="786.2" cy="564.2" r="3.1" fill="url(#gA)"/>
<circle cx="701.6" cy="541.4" r="3" fill="url(#gA)"/>
<circle cx="714.2" cy="525.3" r="3.1" fill="url(#gA)"/>
<circle cx="754.9" cy="565.3" r="2.4" fill="url(#gA)"/>
<circle cx="754.7" cy="530.8" r="2.5" fill="url(#gA)"/>
<circle cx="769.4" cy="598.5" r="2.3" fill="url(#gA)"/>
<circle cx="751.2" cy="508.3" r="3.3" fill="url(#gA)"/>
<circle cx="762.5" cy="568.6" r="2.6" fill="url(#gA)"/>
<circle cx="755.4" cy="497.6" r="2.8" fill="url(#gA)"/>
<circle cx="761.7" cy="518.8" r="2.4" fill="url(#gA)"/>
<circle cx="720.4" cy="550.9" r="2.7" fill="url(#gA)"/>
<circle cx="726.4" cy="552.4" r="3.4" fill="url(#gA)"/>
<circle cx="700.3" cy="527.5" r="2.5" fill="url(#gA)"/>
<circle cx="765.4" cy="605.7" r="2.6" fill="url(#gA)"/>
<circle cx="786.4" cy="532.1" r="2.8" fill="url(#gA)"/>
<circle cx="705.6" cy="568.4" r="3" fill="url(#gA)"/>
<circle cx="706.4" cy="532.5" r="2.9" fill="url(#gA)"/>
<circle cx="730.2" cy="531.2" r="2.6" fill="url(#gA)"/>
<circle cx="791" cy="516.9" r="2.7" fill="url(#gA)"/>
<circle cx="796" cy="536.5" r="2.6" fill="url(#gA)"/>
<circle cx="740.4" cy="565.3" r="3.2" fill="url(#gA)"/>
<circle cx="749.5" cy="598.5" r="2.6" fill="url(#gA)"/>
<circle cx="776.9" cy="588.9" r="2.7" fill="url(#gA)"/>
<circle cx="743.5" cy="513.5" r="2.5" fill="url(#gA)"/>
<circle cx="774.3" cy="522.3" r="2.5" fill="url(#gA)"/>
<circle cx="739.3" cy="603.5" r="2.4" fill="url(#gA)"/>
<circle cx="741.6" cy="575" r="3.1" fill="url(#gA)"/>
<circle cx="722.3" cy="601.3" r="2.4" fill="url(#gA)"/>
<circle cx="697.2" cy="544.5" r="3.4" fill="url(#gA)"/>
<circle cx="731" cy="500.9" r="2.5" fill="url(#gA)"/>
<circle cx="754.8" cy="552.2" r="2.6" fill="url(#gA)"/>
<circle cx="799.2" cy="579.8" r="2.3" fill="url(#gA)"/>
<circle cx="726.9" cy="512.5" r="2.5" fill="url(#gA)"/>
<circle cx="791" cy="559.4" r="2.6" fill="url(#gA)"/>
<circle cx="725.8" cy="594.9" r="2.4" fill="url(#gA)"/>
<circle cx="775.2" cy="551.6" r="2.8" fill="url(#gA)"/>
<circle cx="772" cy="525.6" r="2.4" fill="url(#gA)"/>
<circle cx="778.1" cy="544.5" r="3.2" fill="url(#gA)"/>
<circle cx="719" cy="508.2" r="2.9" fill="url(#gA)"/>
<circle cx="712" cy="560.6" r="2.4" fill="url(#gA)"/>
<circle cx="782.1" cy="553.9" r="2.3" fill="url(#gA)"/>
<circle cx="720.1" cy="564.8" r="2.8" fill="url(#gA)"/>
<circle cx="744.4" cy="563.3" r="2.3" fill="url(#gA)"/>
<circle cx="761.9" cy="589.9" r="3.1" fill="url(#gA)"/>
<circle cx="747.7" cy="517.6" r="2.5" fill="url(#gA)"/>
<circle cx="703.9" cy="585.9" r="2.4" fill="url(#gA)"/>
<circle cx="735.9" cy="518.4" r="2.6" fill="url(#gA)"/>
<circle cx="757.9" cy="514.3" r="2.8" fill="url(#gA)"/>
<circle cx="753.3" cy="607.9" r="2.9" fill="url(#gA)"/>
<circle cx="749.5" cy="574.1" r="3.1" fill="url(#gA)"/>
<circle cx="756.7" cy="598.2" r="2.5" fill="url(#gA)"/>
<circle cx="754.9" cy="525.9" r="2.5" fill="url(#gA)"/>
<circle cx="741.2" cy="547.9" r="2.9" fill="url(#gA)"/>
<circle cx="782.1" cy="510" r="2.4" fill="url(#gA)"/>
<circle cx="805.2" cy="562.8" r="2.8" fill="url(#gA)"/>
<circle cx="733" cy="511.4" r="2.7" fill="url(#gA)"/>
<circle cx="734" cy="504.4" r="2.8" fill="url(#gA)"/>
<circle cx="796.4" cy="548.8" r="2.6" fill="url(#gA)"/>
<circle cx="779.9" cy="531.5" r="3.1" fill="url(#gA)"/>
<circle cx="765.2" cy="551" r="2.4" fill="url(#gA)"/>
<circle cx="708.3" cy="548.2" r="2.5" fill="url(#gA)"/>
<circle cx="722.8" cy="576" r="2.4" fill="url(#gA)"/>
<circle cx="743.6" cy="582.8" r="2.3" fill="url(#gA)"/>
<circle cx="748.9" cy="609.5" r="2.5" fill="url(#gA)"/>
<circle cx="752.3" cy="546" r="2.9" fill="url(#gA)"/>
<circle cx="778" cy="600.9" r="2.5" fill="url(#gA)"/>
<circle cx="786.5" cy="556.8" r="2.3" fill="url(#gA)"/>
<circle cx="727.4" cy="563.1" r="2.4" fill="url(#gA)"/>
<circle cx="716" cy="539" r="2.6" fill="url(#gA)"/>
<circle cx="761.2" cy="541.2" r="2.6" fill="url(#gA)"/>
<circle cx="718.1" cy="545.5" r="3" fill="url(#gA)"/>
<circle cx="706.4" cy="559.8" r="2.6" fill="url(#gA)"/>
<circle cx="781.8" cy="558.6" r="2.8" fill="url(#gA)"/>
<circle cx="766.3" cy="566" r="2.3" fill="url(#gA)"/>
<circle cx="737.9" cy="597.9" r="3" fill="url(#gA)"/>
<circle cx="735.9" cy="573.9" r="2.4" fill="url(#gA)"/>
<circle cx="704.2" cy="547" r="2.7" fill="url(#gA)"/>
<circle cx="776.6" cy="578.7" r="2.6" fill="url(#gA)"/>
<circle cx="729" cy="577.6" r="2.4" fill="url(#gA)"/>
<circle cx="767.1" cy="539.3" r="2.7" fill="url(#gA)"/>
<circle cx="775.1" cy="570" r="2.7" fill="url(#gA)"/>
<circle cx="751" cy="534.7" r="2.4" fill="url(#gA)"/>
<circle cx="754.9" cy="560.5" r="2.4" fill="url(#gA)"/>
<circle cx="696.7" cy="568" r="3" fill="url(#gA)"/>
<circle cx="797" cy="541.9" r="2.4" fill="url(#gA)"/>
<circle cx="706.4" cy="578.2" r="2.6" fill="url(#gA)"/>
<circle cx="786" cy="576" r="2.7" fill="url(#gA)"/>
<circle cx="724.6" cy="534.7" r="2.4" fill="url(#gA)"/>
<circle cx="764.2" cy="582.3" r="2.5" fill="url(#gA)"/>
<circle cx="772.7" cy="586.5" r="2.7" fill="url(#gA)"/>
<circle cx="709.4" cy="526.1" r="2.4" fill="url(#gA)"/>
<circle cx="753.7" cy="502.5" r="3.2" fill="url(#gA)"/>
<circle cx="743.7" cy="504.8" r="2.6" fill="url(#gA)"/>
<circle cx="793.6" cy="539.7" r="2.4" fill="url(#gA)"/>
<circle cx="789.5" cy="567" r="2.4" fill="url(#gA)"/>
<circle cx="770.5" cy="552.4" r="2.9" fill="url(#gA)"/>
<circle cx="766.6" cy="561.7" r="2.6" fill="url(#gA)"/>
<circle cx="705.4" cy="537.2" r="2.8" fill="url(#gA)"/>
<circle cx="727.4" cy="599.3" r="2.7" fill="url(#gA)"/>
<circle cx="732.8" cy="583.9" r="2.3" fill="url(#gA)"/>
<circle cx="774.9" cy="560" r="2.8" fill="url(#gA)"/>
<circle cx="779.5" cy="505.3" r="2.6" fill="url(#gA)"/>
<circle cx="800.1" cy="557.3" r="2.4" fill="url(#gA)"/>
<circle cx="787.1" cy="585.3" r="2.8" fill="url(#gA)"/>
<circle cx="787.3" cy="545.5" r="2.3" fill="url(#gA)"/>
<circle cx="721.7" cy="504.1" r="2.6" fill="url(#gA)"/>
<circle cx="730.8" cy="507.3" r="2.3" fill="url(#gA)"/>
<circle cx="713.7" cy="590.2" r="2.5" fill="url(#gA)"/>
<circle cx="747.3" cy="546.6" r="2.8" fill="url(#gA)"/>
<circle cx="709.9" cy="516.5" r="2.3" fill="url(#gA)"/>
<circle cx="728.6" cy="586.3" r="2.5" fill="url(#gA)"/>
<circle cx="757.9" cy="578.9" r="2.4" fill="url(#gA)"/>
<circle cx="747" cy="602.4" r="2.5" fill="url(#gA)"/>
<circle cx="704.5" cy="582" r="2.5" fill="url(#gA)"/>
<circle cx="795" cy="519.9" r="2.7" fill="url(#gA)"/>
<circle cx="722.2" cy="593.2" r="2.3" fill="url(#gA)"/>
<circle cx="791.1" cy="563.4" r="2.3" fill="url(#gA)"/>
<circle cx="767.8" cy="579.6" r="2.4" fill="url(#gA)"/>
<circle cx="781.2" cy="526.9" r="2.6" fill="url(#gA)"/>
<circle cx="731.5" cy="573.8" r="2.6" fill="url(#gA)"/>
<circle cx="740.3" cy="501.9" r="2.4" fill="url(#gA)"/>
<circle cx="763.8" cy="499" r="2.4" fill="url(#gA)"/>
<circle cx="710.6" cy="552.3" r="2.5" fill="url(#gA)"/>
<circle cx="713.6" cy="507.9" r="2.2" fill="#f8f8fb"/>
<circle cx="699.7" cy="522.7" r="1.9" fill="#f8f8fb"/>
<circle cx="699.1" cy="523.8" r="1.5" fill="#f8f8fb"/>
<circle cx="721.1" cy="503" r="1.6" fill="#f8f8fb"/>
<circle cx="719.6" cy="502.1" r="1.6" fill="#f8f8fb"/>
<circle cx="707" cy="512.8" r="2.5" fill="#f8f8fb"/>
<circle cx="731.4" cy="497.7" r="2.6" fill="#f8f8fb"/>
<circle cx="698" cy="524.3" r="1.8" fill="#f8f8fb"/>
<circle cx="703.6" cy="518.4" r="1.8" fill="#f8f8fb"/>
<circle cx="750.6" cy="495.1" r="2.1" fill="#f8f8fb"/>
<circle cx="736.3" cy="496.4" r="2.1" fill="#f8f8fb"/>
<circle cx="700.1" cy="523.9" r="1.7" fill="#f8f8fb"/>
<circle cx="739.5" cy="495.6" r="1.8" fill="#f8f8fb"/>
<circle cx="732" cy="497.4" r="1.8" fill="#f8f8fb"/>
<circle cx="789.3" cy="596.7" r="1.8" fill="#f8f8fb"/>
<circle cx="796.1" cy="588.9" r="2.5" fill="#f8f8fb"/>
<circle cx="790.9" cy="594" r="2.6" fill="#f8f8fb"/>
<circle cx="805.6" cy="569.9" r="2.3" fill="#f8f8fb"/>
<circle cx="805.3" cy="571.5" r="1.5" fill="#f8f8fb"/>
<circle cx="793.6" cy="592.6" r="2.1" fill="#f8f8fb"/>
<circle cx="785.9" cy="598.5" r="2.3" fill="#f8f8fb"/>
<circle cx="795.6" cy="589.7" r="2" fill="#f8f8fb"/>
<circle cx="788" cy="598.5" r="2" fill="#f8f8fb"/>
<circle cx="792.7" cy="591.5" r="2.3" fill="#f8f8fb"/>
<circle cx="794.6" cy="592.1" r="2.4" fill="#f8f8fb"/>
<circle cx="802.8" cy="577.2" r="2.2" fill="#f8f8fb"/>
<circle cx="784.9" cy="600.2" r="2" fill="url(#gA)"/>
<circle cx="777.6" cy="603" r="2.6" fill="url(#gA)"/>
<circle cx="777.1" cy="604.2" r="2.2" fill="url(#gA)"/>
<circle cx="719.9" cy="601.9" r="2.2" fill="url(#gA)"/>
<circle cx="743.9" cy="613.2" r="2.6" fill="url(#gA)"/>
<circle cx="720" cy="602.9" r="2.2" fill="url(#gA)"/>
<circle cx="760" cy="612.7" r="2.8" fill="url(#gA)"/>
<circle cx="775.4" cy="604.7" r="2" fill="url(#gA)"/>
<circle cx="769.7" cy="608.5" r="2.4" fill="url(#gA)"/>
<circle cx="766.8" cy="607.4" r="2.2" fill="url(#gA)"/>
<circle cx="758.9" cy="611.6" r="2.8" fill="url(#gA)"/>
<circle cx="732.6" cy="609.5" r="2.4" fill="url(#gA)"/>
<circle cx="734.2" cy="608.1" r="2.7" fill="url(#gA)"/>
<circle cx="725.1" cy="608.2" r="2.6" fill="url(#gA)"/>
<circle cx="720" cy="600" r="2.2" fill="#f4f4f4"/>
<path d="M752,498 L760,497 L758,503 L754,512 L752,519 L750,512 Z" fill="#d7b286"/>
<path d="M771,545 Q790,549 808,545 L808,551 Q790,554 774,549 Z" fill="#d9b78e"/>
<circle cx="883.1" cy="549.9" r="58" fill="#101319"/>
<circle cx="936" cy="534.9" r="2.8" fill="url(#gB)"/>
<circle cx="927.6" cy="576.2" r="3.9" fill="url(#gB)"/>
<circle cx="867.9" cy="522.4" r="3.7" fill="url(#gB)"/>
<circle cx="849.4" cy="523.1" r="3" fill="url(#gB)"/>
<circle cx="851" cy="564.9" r="3.9" fill="url(#gB)"/>
<circle cx="938.1" cy="548.1" r="3.6" fill="url(#gB)"/>
<circle cx="855.6" cy="559.8" r="2.8" fill="url(#gB)"/>
<circle cx="921.1" cy="556.5" r="3.2" fill="url(#gB)"/>
<circle cx="844.2" cy="586.4" r="3.5" fill="url(#gB)"/>
<circle cx="857.6" cy="539.7" r="2.7" fill="url(#gB)"/>
<circle cx="873.6" cy="568.5" r="3.5" fill="url(#gB)"/>
<circle cx="929.5" cy="549.5" r="3" fill="url(#gB)"/>
<circle cx="922.7" cy="518.6" r="3.9" fill="url(#gB)"/>
<circle cx="849.1" cy="594.4" r="4.2" fill="url(#gB)"/>
<circle cx="909.1" cy="591.5" r="3.8" fill="url(#gB)"/>
<circle cx="843.2" cy="559.8" r="3.5" fill="url(#gB)"/>
<circle cx="918.7" cy="531.7" r="4" fill="url(#gB)"/>
<circle cx="876.6" cy="511" r="3.1" fill="url(#gB)"/>
<circle cx="861.7" cy="592.1" r="3" fill="url(#gB)"/>
<circle cx="907.6" cy="533.9" r="4.2" fill="url(#gB)"/>
<circle cx="862.9" cy="601.4" r="3.8" fill="url(#gB)"/>
<circle cx="842.5" cy="548.8" r="3.7" fill="url(#gB)"/>
<circle cx="856.2" cy="533.3" r="3" fill="url(#gB)"/>
<circle cx="828.6" cy="545.8" r="3.7" fill="url(#gB)"/>
<circle cx="925.7" cy="566.4" r="3.1" fill="url(#gB)"/>
<circle cx="890.8" cy="602.2" r="2.9" fill="url(#gB)"/>
<circle cx="896.1" cy="601.3" r="3.4" fill="url(#gB)"/>
<circle cx="881" cy="540" r="3.3" fill="url(#gB)"/>
<circle cx="891.7" cy="547.4" r="3.9" fill="url(#gB)"/>
<circle cx="911.4" cy="553.7" r="4" fill="url(#gB)"/>
<circle cx="896.4" cy="570.1" r="3.8" fill="url(#gB)"/>
<circle cx="874.3" cy="557.6" r="4.3" fill="url(#gB)"/>
<circle cx="889.3" cy="558.7" r="3.3" fill="url(#gB)"/>
<circle cx="846.6" cy="517.6" r="2.9" fill="url(#gB)"/>
<circle cx="888" cy="501.5" r="4.1" fill="url(#gB)"/>
<circle cx="856.7" cy="554.5" r="3.8" fill="url(#gB)"/>
<circle cx="897.3" cy="535.6" r="3.6" fill="url(#gB)"/>
<circle cx="851.4" cy="575.2" r="2.9" fill="url(#gB)"/>
<circle cx="910.9" cy="542.7" r="3.7" fill="url(#gB)"/>
<circle cx="892.4" cy="564.7" r="3.7" fill="url(#gB)"/>
<circle cx="882.9" cy="593.3" r="3.7" fill="url(#gB)"/>
<circle cx="897.9" cy="504.7" r="3.1" fill="url(#gB)"/>
<circle cx="846.8" cy="569" r="2.7" fill="url(#gB)"/>
<circle cx="878.6" cy="522.5" r="2.9" fill="url(#gB)"/>
<circle cx="866.7" cy="529.7" r="4.2" fill="url(#gB)"/>
<circle cx="930" cy="538.8" r="3.4" fill="url(#gB)"/>
<circle cx="869.3" cy="604.2" r="3.3" fill="url(#gB)"/>
<circle cx="929.5" cy="555.5" r="2.9" fill="url(#gB)"/>
<circle cx="910" cy="563.4" r="3.3" fill="url(#gB)"/>
<circle cx="897.5" cy="543.7" r="3.9" fill="url(#gB)"/>
<circle cx="898.2" cy="589.8" r="3.3" fill="url(#gB)"/>
<circle cx="835.4" cy="561.1" r="3.3" fill="url(#gB)"/>
<circle cx="909.7" cy="513.3" r="4.2" fill="url(#gB)"/>
<circle cx="859.2" cy="579.7" r="4" fill="url(#gB)"/>
<circle cx="898.9" cy="523.5" r="3.1" fill="url(#gB)"/>
<circle cx="859.8" cy="501" r="3.6" fill="url(#gB)"/>
<circle cx="890.3" cy="534" r="3.3" fill="url(#gB)"/>
<circle cx="904.7" cy="549.6" r="3.4" fill="url(#gB)"/>
<circle cx="898.2" cy="556.7" r="4.1" fill="url(#gB)"/>
<circle cx="875.3" cy="575.9" r="3.8" fill="url(#gB)"/>
<circle cx="867.4" cy="515.9" r="3.5" fill="url(#gB)"/>
<circle cx="914.8" cy="576.8" r="4.2" fill="url(#gB)"/>
<circle cx="883.7" cy="532.4" r="3.5" fill="url(#gB)"/>
<circle cx="906.1" cy="579.5" r="2.7" fill="url(#gB)"/>
<circle cx="839.2" cy="520" r="3" fill="url(#gB)"/>
<circle cx="869.7" cy="496.9" r="3.8" fill="url(#gB)"/>
<circle cx="828.5" cy="559.4" r="3.2" fill="url(#gB)"/>
<circle cx="881.8" cy="504.1" r="3.9" fill="url(#gB)"/>
<circle cx="845.3" cy="576.4" r="4.3" fill="url(#gB)"/>
<circle cx="879.1" cy="545.3" r="3.4" fill="url(#gB)"/>
<circle cx="885.8" cy="524.8" r="3.9" fill="url(#gB)"/>
<circle cx="911.7" cy="583.6" r="3.4" fill="url(#gB)"/>
<circle cx="922.5" cy="550.7" r="4" fill="url(#gB)"/>
<circle cx="856.4" cy="508.7" r="3.5" fill="url(#gB)"/>
<circle cx="873.7" cy="549.7" r="2.8" fill="url(#gB)"/>
<circle cx="890.8" cy="514.8" r="3.8" fill="url(#gB)"/>
<circle cx="895.3" cy="498.8" r="2.9" fill="url(#gB)"/>
<circle cx="881.5" cy="555.4" r="3.6" fill="url(#gB)"/>
<circle cx="830.6" cy="536.9" r="2.8" fill="url(#gB)"/>
<circle cx="887.2" cy="587.9" r="3.1" fill="url(#gB)"/>
<circle cx="897.6" cy="518.3" r="3.3" fill="url(#gB)"/>
<circle cx="901.9" cy="582.4" r="3.2" fill="url(#gB)"/>
<circle cx="848.3" cy="508" r="3.2" fill="url(#gB)"/>
<circle cx="905.4" cy="566" r="3" fill="url(#gB)"/>
<circle cx="859.1" cy="523.4" r="4" fill="url(#gB)"/>
<circle cx="928.2" cy="530.6" r="4.3" fill="url(#gB)"/>
<circle cx="871.6" cy="593" r="3.8" fill="url(#gB)"/>
<circle cx="883.7" cy="577.6" r="3.7" fill="url(#gB)"/>
<circle cx="838" cy="571.2" r="2.9" fill="url(#gB)"/>
<circle cx="921" cy="589.4" r="3.8" fill="url(#gB)"/>
<circle cx="884.7" cy="544.8" r="2.9" fill="url(#gB)"/>
<circle cx="874.8" cy="534.9" r="4.3" fill="url(#gB)"/>
<circle cx="836.9" cy="543.2" r="4.1" fill="url(#gB)"/>
<circle cx="907.9" cy="558.5" r="3.3" fill="url(#gB)"/>
<circle cx="872.2" cy="585.4" r="3.4" fill="url(#gB)"/>
<circle cx="847.2" cy="535" r="3.2" fill="url(#gB)"/>
<circle cx="888.5" cy="494" r="3.1" fill="url(#gB)"/>
<circle cx="869.4" cy="504.7" r="3.8" fill="url(#gB)"/>
<circle cx="906" cy="503.6" r="3.7" fill="url(#gB)"/>
<circle cx="855.7" cy="518.5" r="3" fill="url(#gB)"/>
<circle cx="918" cy="525.4" r="3.4" fill="url(#gB)"/>
<circle cx="875.6" cy="603.3" r="3" fill="url(#gB)"/>
<circle cx="862.4" cy="585.8" r="3.3" fill="url(#gB)"/>
<circle cx="900.1" cy="498.6" r="2.9" fill="url(#gB)"/>
<circle cx="843.3" cy="524.2" r="3.5" fill="url(#gB)"/>
<circle cx="903.1" cy="574.2" r="3.8" fill="url(#gB)"/>
<circle cx="922.2" cy="581.1" r="3.3" fill="url(#gB)"/>
<circle cx="832.2" cy="571" r="4" fill="url(#gB)"/>
<circle cx="902.4" cy="509.7" r="2.7" fill="url(#gB)"/>
<circle cx="905.1" cy="518.4" r="3.8" fill="url(#gB)"/>
<circle cx="850.3" cy="588.2" r="3.3" fill="url(#gB)"/>
<circle cx="864.8" cy="555.3" r="4.2" fill="url(#gB)"/>
<circle cx="905.5" cy="596.4" r="3.2" fill="url(#gB)"/>
<circle cx="921.4" cy="571.1" r="3.3" fill="url(#gB)"/>
<circle cx="915.1" cy="518" r="3.6" fill="url(#gB)"/>
<circle cx="890.6" cy="593.5" r="3" fill="url(#gB)"/>
<circle cx="914.7" cy="503.7" r="3" fill="url(#gB)"/>
<circle cx="885.6" cy="600.7" r="3.9" fill="url(#gB)"/>
<circle cx="867.6" cy="568.2" r="3" fill="url(#gB)"/>
<circle cx="894.9" cy="595.8" r="2.7" fill="url(#gB)"/>
<circle cx="935.9" cy="553.4" r="3.2" fill="url(#gB)"/>
<circle cx="910.7" cy="523.7" r="4.2" fill="url(#gB)"/>
<circle cx="892.2" cy="521.1" r="2.7" fill="url(#gB)"/>
<circle cx="932.2" cy="523.5" r="4.2" fill="url(#gB)"/>
<circle cx="866.6" cy="546.1" r="4.2" fill="url(#gB)"/>
<circle cx="838.2" cy="528.2" r="3.1" fill="url(#gB)"/>
<circle cx="852.3" cy="542.6" r="3.5" fill="url(#gB)"/>
<circle cx="886.2" cy="570.8" r="4.2" fill="url(#gB)"/>
<circle cx="894" cy="580.2" r="3.2" fill="url(#gB)"/>
<circle cx="920.3" cy="543.8" r="3.8" fill="url(#gB)"/>
<circle cx="892.1" cy="541.5" r="3.2" fill="url(#gB)"/>
<circle cx="859.7" cy="563.2" r="3.3" fill="url(#gB)"/>
<circle cx="925.3" cy="541.2" r="2.7" fill="url(#gB)"/>
<circle cx="885.2" cy="511" r="4.2" fill="url(#gB)"/>
<circle cx="886.9" cy="552.8" r="3" fill="url(#gB)"/>
<circle cx="901.4" cy="532" r="2.9" fill="url(#gB)"/>
<circle cx="879.6" cy="566" r="4" fill="url(#gB)"/>
<circle cx="866.6" cy="576.6" r="2.9" fill="url(#gB)"/>
<circle cx="850.2" cy="529.3" r="3.2" fill="url(#gB)"/>
<circle cx="837.5" cy="553.8" r="3.2" fill="url(#gB)"/>
<circle cx="919" cy="514" r="3.4" fill="url(#gB)"/>
<circle cx="860.9" cy="515.4" r="3.3" fill="url(#gB)"/>
<circle cx="925" cy="512.6" r="3.9" fill="url(#gB)"/>
<circle cx="849.8" cy="550.3" r="2.8" fill="url(#gB)"/>
<circle cx="894.4" cy="529.5" r="3" fill="url(#gB)"/>
<circle cx="892.2" cy="506.7" r="3.7" fill="url(#gB)"/>
<circle cx="879.1" cy="495.9" r="3.4" fill="url(#gB)"/>
<circle cx="835.9" cy="534.4" r="3.1" fill="url(#gB)"/>
<circle cx="838.6" cy="584.4" r="3.5" fill="url(#gB)"/>
<circle cx="879.1" cy="584.3" r="3.1" fill="url(#gB)"/>
<circle cx="912.1" cy="571.6" r="2.9" fill="url(#gB)"/>
<circle cx="862.3" cy="570.3" r="3.1" fill="url(#gB)"/>
<circle cx="859.4" cy="545.4" r="4.1" fill="url(#gB)"/>
<circle cx="864" cy="507.3" r="2.8" fill="url(#gB)"/>
<circle cx="874.8" cy="526" r="3.3" fill="url(#gB)"/>
<circle cx="855.8" cy="598.2" r="2.9" fill="url(#gB)"/>
<circle cx="915.2" cy="593" r="3" fill="url(#gB)"/>
<circle cx="919.4" cy="538" r="2.8" fill="url(#gB)"/>
<circle cx="880.3" cy="528.1" r="2.8" fill="url(#gB)"/>
<circle cx="856.7" cy="588" r="3.3" fill="url(#gB)"/>
<circle cx="831.4" cy="531" r="3.2" fill="url(#gB)"/>
<circle cx="842.5" cy="537.9" r="3.2" fill="url(#gB)"/>
<circle cx="927.1" cy="584" r="3.6" fill="url(#gB)"/>
<circle cx="863.2" cy="539.1" r="4.1" fill="url(#gB)"/>
<circle cx="851.1" cy="582.1" r="3.6" fill="url(#gB)"/>
<circle cx="933.4" cy="558.6" r="3.2" fill="url(#gB)"/>
<circle cx="869.7" cy="539.2" r="2.7" fill="url(#gB)"/>
<circle cx="855.4" cy="569" r="3.5" fill="url(#gB)"/>
<circle cx="917.9" cy="563.8" r="2.8" fill="url(#gB)"/>
<circle cx="846.6" cy="540.7" r="2.8" fill="url(#gB)"/>
<circle cx="849.8" cy="558.9" r="3" fill="url(#gB)"/>
<circle cx="871.4" cy="510.8" r="3" fill="url(#gB)"/>
<circle cx="852.7" cy="503.1" r="3.2" fill="url(#gB)"/>
<circle cx="867.4" cy="561.5" r="3.3" fill="url(#gB)"/>
<circle cx="841.9" cy="531.9" r="3.2" fill="url(#gB)"/>
<circle cx="924.3" cy="524.9" r="3.8" fill="url(#gB)"/>
<circle cx="875.2" cy="502.8" r="3.1" fill="url(#gB)"/>
<circle cx="935.5" cy="570.4" r="3.9" fill="url(#gB)"/>
<circle cx="879.9" cy="515.8" r="3.9" fill="url(#gB)"/>
<circle cx="842.3" cy="511.3" r="3.2" fill="url(#gB)"/>
<circle cx="903.5" cy="601.6" r="3.4" fill="url(#gB)"/>
<circle cx="885.6" cy="562.5" r="3" fill="url(#gB)"/>
<circle cx="878.6" cy="597.2" r="3" fill="url(#gB)"/>
<circle cx="912.6" cy="597.3" r="3" fill="url(#gB)"/>
<circle cx="838.7" cy="577.9" r="2.8" fill="url(#gB)"/>
<circle cx="900.1" cy="563.3" r="3.6" fill="url(#gB)"/>
<circle cx="847.2" cy="545.9" r="2.9" fill="url(#gB)"/>
<circle cx="911.5" cy="529.6" r="3" fill="url(#gB)"/>
<circle cx="903.7" cy="539.8" r="2.9" fill="url(#gB)"/>
<circle cx="937.6" cy="542.1" r="3.6" fill="url(#gB)"/>
<circle cx="895.4" cy="511.5" r="2.7" fill="url(#gB)"/>
<circle cx="928.9" cy="570.3" r="2.8" fill="url(#gB)"/>
<circle cx="826.9" cy="553.5" r="3" fill="url(#gB)"/>
<circle cx="892.3" cy="587.3" r="3.3" fill="url(#gB)"/>
<circle cx="868.3" cy="581.3" r="3.1" fill="url(#gB)"/>
<circle cx="874.6" cy="541.3" r="3.6" fill="url(#gB)"/>
<circle cx="852.4" cy="514.7" r="2.8" fill="url(#gB)"/>
<circle cx="903.3" cy="587" r="2.7" fill="url(#gB)"/>
<circle cx="846.9" cy="513" r="2.7" fill="url(#gB)"/>
<circle cx="882.5" cy="605.7" r="2.7" fill="url(#gB)"/>
<circle cx="887.6" cy="581.6" r="3" fill="url(#gB)"/>
<circle cx="925.9" cy="560.4" r="3.1" fill="url(#gB)"/>
<circle cx="917" cy="559" r="2.7" fill="url(#gB)"/>
<circle cx="873.8" cy="517" r="3.8" fill="url(#gB)"/>
<circle cx="910.6" cy="507.4" r="2.9" fill="url(#gB)"/>
<circle cx="858.2" cy="573.8" r="3.3" fill="url(#gB)"/>
<circle cx="877" cy="589.2" r="3.2" fill="url(#gB)"/>
<circle cx="833.6" cy="526.2" r="2.7" fill="url(#gB)"/>
<circle cx="869.3" cy="598.5" r="3.5" fill="url(#gB)"/>
<circle cx="916" cy="508.9" r="2.8" fill="url(#gB)"/>
<circle cx="932.4" cy="545.6" r="3" fill="url(#gB)"/>
<circle cx="891.5" cy="574.9" r="2.8" fill="url(#gB)"/>
<circle cx="852.3" cy="536.4" r="3.1" fill="url(#gB)"/>
<circle cx="886" cy="518.1" r="3.1" fill="url(#gB)"/>
<circle cx="936.6" cy="563.2" r="3.3" fill="url(#gB)"/>
<circle cx="887.3" cy="538.6" r="3.1" fill="url(#gB)"/>
<circle cx="904.2" cy="525.9" r="3.8" fill="url(#gB)"/>
<circle cx="916.3" cy="549.7" r="2.9" fill="url(#gB)"/>
<circle cx="832.8" cy="551.7" r="2.8" fill="url(#gB)"/>
<circle cx="898.1" cy="576.3" r="3.1" fill="url(#gB)"/>
<circle cx="914.6" cy="538.9" r="2.9" fill="url(#gB)"/>
<circle cx="882.8" cy="549" r="2.7" fill="url(#gB)"/>
<circle cx="840.6" cy="567" r="3.1" fill="url(#gB)"/>
<circle cx="830.9" cy="564.6" r="3.4" fill="url(#gB)"/>
<circle cx="917.1" cy="568.5" r="2.9" fill="url(#gB)"/>
<circle cx="897.9" cy="550.4" r="3.2" fill="url(#gB)"/>
<circle cx="935.6" cy="529.7" r="3.3" fill="url(#gB)"/>
<circle cx="846.8" cy="554.6" r="2.8" fill="url(#gB)"/>
<circle cx="892.8" cy="553.9" r="3.1" fill="url(#gB)"/>
<circle cx="932.3" cy="565.6" r="2.7" fill="url(#gB)"/>
<circle cx="879.9" cy="572.5" r="2.9" fill="url(#gB)"/>
<circle cx="866.6" cy="590.1" r="3.3" fill="url(#gB)"/>
<circle cx="874.4" cy="494.5" r="2.7" fill="url(#gB)"/>
<circle cx="924.5" cy="536.7" r="2.9" fill="url(#gB)"/>
<circle cx="901.1" cy="514.3" r="2.8" fill="url(#gB)"/>
<circle cx="917.2" cy="583" r="3.2" fill="url(#gB)"/>
<circle cx="910.5" cy="501" r="2.8" fill="url(#gB)"/>
<circle cx="870" cy="572.5" r="3" fill="url(#gB)"/>
<circle cx="833" cy="556.5" r="3.1" fill="url(#gB)"/>
<circle cx="855.2" cy="593.3" r="2.7" fill="url(#gB)"/>
<circle cx="854.5" cy="548.2" r="2.8" fill="url(#gB)"/>
<circle cx="861.3" cy="532.1" r="3.1" fill="url(#gB)"/>
<circle cx="863.7" cy="497.1" r="3" fill="url(#gB)"/>
<circle cx="1010.4" cy="554.2" r="57" fill="#101319"/>
<circle cx="1013.5" cy="595" r="3.3" fill="url(#gB)"/>
<circle cx="975.5" cy="527.5" r="2.8" fill="url(#gB)"/>
<circle cx="1061" cy="558.4" r="3.1" fill="url(#gB)"/>
<circle cx="1015.8" cy="609.3" r="3.5" fill="url(#gB)"/>
<circle cx="1030.2" cy="521.4" r="3.7" fill="url(#gB)"/>
<circle cx="1036.3" cy="590.1" r="4.1" fill="url(#gB)"/>
<circle cx="963.1" cy="547.3" r="3.8" fill="url(#gB)"/>
<circle cx="1054.9" cy="573.1" r="3.6" fill="url(#gB)"/>
<circle cx="1007.3" cy="563.5" r="4.1" fill="url(#gB)"/>
<circle cx="964" cy="562.2" r="4.1" fill="url(#gB)"/>
<circle cx="998.5" cy="502.3" r="3.3" fill="url(#gB)"/>
<circle cx="1022" cy="519.1" r="4.2" fill="url(#gB)"/>
<circle cx="1022.9" cy="542.3" r="2.9" fill="url(#gB)"/>
<circle cx="1021.6" cy="607.6" r="3.4" fill="url(#gB)"/>
<circle cx="989.1" cy="532.4" r="3.5" fill="url(#gB)"/>
<circle cx="985.6" cy="575.8" r="3.6" fill="url(#gB)"/>
<circle cx="964.8" cy="527.5" r="3.8" fill="url(#gB)"/>
<circle cx="1056.7" cy="532" r="4.3" fill="url(#gB)"/>
<circle cx="999.8" cy="534.5" r="4.1" fill="url(#gB)"/>
<circle cx="1061.9" cy="542.6" r="3.6" fill="url(#gB)"/>
<circle cx="1004.7" cy="529.4" r="4" fill="url(#gB)"/>
<circle cx="983.9" cy="541" r="2.8" fill="url(#gB)"/>
<circle cx="1044" cy="510.3" r="2.8" fill="url(#gB)"/>
<circle cx="997.1" cy="601" r="4.1" fill="url(#gB)"/>
<circle cx="1052.2" cy="566.1" r="2.8" fill="url(#gB)"/>
<circle cx="1049.6" cy="549.4" r="4.3" fill="url(#gB)"/>
<circle cx="1034.6" cy="559" r="3.4" fill="url(#gB)"/>
<circle cx="993.5" cy="540.2" r="2.8" fill="url(#gB)"/>
<circle cx="1031.4" cy="531.2" r="4.2" fill="url(#gB)"/>
<circle cx="1037.6" cy="533.6" r="3.4" fill="url(#gB)"/>
<circle cx="969.7" cy="538.3" r="4.2" fill="url(#gB)"/>
<circle cx="974" cy="552.6" r="3.9" fill="url(#gB)"/>
<circle cx="1012.8" cy="584.6" r="4.3" fill="url(#gB)"/>
<circle cx="969.7" cy="548.8" r="2.7" fill="url(#gB)"/>
<circle cx="974" cy="575.7" r="2.7" fill="url(#gB)"/>
<circle cx="984" cy="527" r="3.8" fill="url(#gB)"/>
<circle cx="982.4" cy="591.5" r="3.9" fill="url(#gB)"/>
<circle cx="1023.9" cy="556.1" r="3.8" fill="url(#gB)"/>
<circle cx="1037.5" cy="547.8" r="3.4" fill="url(#gB)"/>
<circle cx="997.5" cy="585.3" r="3.7" fill="url(#gB)"/>
<circle cx="1000.8" cy="578.5" r="4" fill="url(#gB)"/>
<circle cx="1012.1" cy="578.2" r="3.4" fill="url(#gB)"/>
<circle cx="984.9" cy="598" r="3.4" fill="url(#gB)"/>
<circle cx="1024.5" cy="536.2" r="3.2" fill="url(#gB)"/>
<circle cx="979.8" cy="511.9" r="3.4" fill="url(#gB)"/>
<circle cx="1028.5" cy="600.6" r="4" fill="url(#gB)"/>
<circle cx="1022.3" cy="581" r="4" fill="url(#gB)"/>
<circle cx="1031" cy="576" r="4" fill="url(#gB)"/>
<circle cx="1006.1" cy="586.6" r="3.4" fill="url(#gB)"/>
<circle cx="979.3" cy="571.4" r="4.2" fill="url(#gB)"/>
<circle cx="1012.5" cy="557.3" r="4.2" fill="url(#gB)"/>
<circle cx="1050.6" cy="516.5" r="3.4" fill="url(#gB)"/>
<circle cx="1009" cy="503.5" r="3.8" fill="url(#gB)"/>
<circle cx="980.8" cy="550.6" r="3.2" fill="url(#gB)"/>
<circle cx="1012.4" cy="568.5" r="3.6" fill="url(#gB)"/>
<circle cx="1048.4" cy="527.9" r="4.2" fill="url(#gB)"/>
<circle cx="1052.3" cy="522.3" r="3.6" fill="url(#gB)"/>
<circle cx="964.3" cy="581.9" r="3.7" fill="url(#gB)"/>
<circle cx="1023.6" cy="592.6" r="4" fill="url(#gB)"/>
<circle cx="1027.8" cy="506.9" r="2.7" fill="url(#gB)"/>
<circle cx="974.8" cy="516.9" r="2.8" fill="url(#gB)"/>
<circle cx="1020.7" cy="564.4" r="4.3" fill="url(#gB)"/>
<circle cx="984.8" cy="520.3" r="3.3" fill="url(#gB)"/>
<circle cx="1031" cy="565.5" r="3.3" fill="url(#gB)"/>
<circle cx="971.5" cy="524.2" r="3.3" fill="url(#gB)"/>
<circle cx="1024.2" cy="512.6" r="3.4" fill="url(#gB)"/>
<circle cx="983.2" cy="582.3" r="3.8" fill="url(#gB)"/>
<circle cx="1043" cy="569.9" r="3.4" fill="url(#gB)"/>
<circle cx="991.4" cy="558.6" r="4" fill="url(#gB)"/>
<circle cx="986.9" cy="512.9" r="3.6" fill="url(#gB)"/>
<circle cx="1044.3" cy="579.9" r="2.7" fill="url(#gB)"/>
<circle cx="1047.3" cy="589.4" r="3.8" fill="url(#gB)"/>
<circle cx="1038.3" cy="507.8" r="3.6" fill="url(#gB)"/>
<circle cx="1013.6" cy="544.1" r="3.9" fill="url(#gB)"/>
<circle cx="991.7" cy="591.4" r="4" fill="url(#gB)"/>
<circle cx="996.5" cy="562.1" r="3.5" fill="url(#gB)"/>
<circle cx="992" cy="518.8" r="3.5" fill="url(#gB)"/>
<circle cx="1050" cy="581.4" r="4.2" fill="url(#gB)"/>
<circle cx="990.8" cy="503.7" r="3.2" fill="url(#gB)"/>
<circle cx="1000.5" cy="519.9" r="4.1" fill="url(#gB)"/>
<circle cx="1048.4" cy="559.8" r="3.3" fill="url(#gB)"/>
<circle cx="1013.6" cy="533.4" r="4.3" fill="url(#gB)"/>
<circle cx="971.9" cy="582.1" r="4.2" fill="url(#gB)"/>
<circle cx="984.4" cy="559.6" r="3.1" fill="url(#gB)"/>
<circle cx="1001.2" cy="509.5" r="4.2" fill="url(#gB)"/>
<circle cx="1008.3" cy="538.1" r="2.8" fill="url(#gB)"/>
<circle cx="1025.5" cy="528.3" r="3.3" fill="url(#gB)"/>
<circle cx="970.5" cy="532.1" r="2.7" fill="url(#gB)"/>
<circle cx="1003.4" cy="598.9" r="2.9" fill="url(#gB)"/>
<circle cx="1042.1" cy="542" r="3.9" fill="url(#gB)"/>
<circle cx="1011.8" cy="524.1" r="3.8" fill="url(#gB)"/>
<circle cx="992.2" cy="550" r="3.5" fill="url(#gB)"/>
<circle cx="988.8" cy="544.6" r="3.7" fill="url(#gB)"/>
<circle cx="964.4" cy="541.4" r="3.3" fill="url(#gB)"/>
<circle cx="1008.2" cy="571.6" r="2.9" fill="url(#gB)"/>
<circle cx="1019" cy="507.7" r="3" fill="url(#gB)"/>
<circle cx="1031.6" cy="582.1" r="3" fill="url(#gB)"/>
<circle cx="1010.4" cy="603.3" r="2.7" fill="url(#gB)"/>
<circle cx="999.9" cy="552.2" r="3.5" fill="url(#gB)"/>
<circle cx="993.3" cy="574.9" r="2.8" fill="url(#gB)"/>
<circle cx="958.5" cy="541.3" r="3.2" fill="url(#gB)"/>
<circle cx="1042.2" cy="520.6" r="2.9" fill="url(#gB)"/>
<circle cx="965.8" cy="572.8" r="3.5" fill="url(#gB)"/>
<circle cx="1017.2" cy="575.4" r="3.5" fill="url(#gB)"/>
<circle cx="991.7" cy="567.1" r="2.7" fill="url(#gB)"/>
<circle cx="999.3" cy="570.3" r="2.8" fill="url(#gB)"/>
<circle cx="958.1" cy="565.8" r="3.2" fill="url(#gB)"/>
<circle cx="1036" cy="570" r="4.1" fill="url(#gB)"/>
<circle cx="1012.8" cy="508.6" r="2.9" fill="url(#gB)"/>
<circle cx="1027.7" cy="549.3" r="3.6" fill="url(#gB)"/>
<circle cx="977.2" cy="540.5" r="3.9" fill="url(#gB)"/>
<circle cx="1018.9" cy="537.6" r="2.7" fill="url(#gB)"/>
<circle cx="980.9" cy="531.8" r="2.9" fill="url(#gB)"/>
<circle cx="1007.1" cy="518.3" r="3.7" fill="url(#gB)"/>
<circle cx="1042.5" cy="553.3" r="3.4" fill="url(#gB)"/>
<circle cx="999.4" cy="592.7" r="3.7" fill="url(#gB)"/>
<circle cx="971.2" cy="563.4" r="3.6" fill="url(#gB)"/>
<circle cx="978.7" cy="521.5" r="4.2" fill="url(#gB)"/>
<circle cx="1020.3" cy="528.4" r="2.9" fill="url(#gB)"/>
<circle cx="993.9" cy="524.7" r="3.5" fill="url(#gB)"/>
<circle cx="972.9" cy="588" r="3.2" fill="url(#gB)"/>
<circle cx="1003.3" cy="607.8" r="4.2" fill="url(#gB)"/>
<circle cx="1005.8" cy="595" r="2.8" fill="url(#gB)"/>
<circle cx="1029.8" cy="541.1" r="4.3" fill="url(#gB)"/>
<circle cx="1062.3" cy="570.6" r="3.6" fill="url(#gB)"/>
<circle cx="1018.7" cy="513.2" r="3.4" fill="url(#gB)"/>
<circle cx="1025.5" cy="501" r="3.8" fill="url(#gB)"/>
<circle cx="1043.3" cy="515.6" r="3.2" fill="url(#gB)"/>
<circle cx="962.9" cy="554" r="3.2" fill="url(#gB)"/>
<circle cx="997.3" cy="544.8" r="2.7" fill="url(#gB)"/>
<circle cx="1056.1" cy="548.2" r="2.8" fill="url(#gB)"/>
<circle cx="1047.3" cy="538.3" r="3.6" fill="url(#gB)"/>
<circle cx="1035.9" cy="522.4" r="3.2" fill="url(#gB)"/>
<circle cx="1017.2" cy="590.5" r="3.6" fill="url(#gB)"/>
<circle cx="968.2" cy="556.8" r="3.1" fill="url(#gB)"/>
<circle cx="1033.1" cy="504" r="3.3" fill="url(#gB)"/>
<circle cx="996.9" cy="514.8" r="3.3" fill="url(#gB)"/>
<circle cx="985.7" cy="552.5" r="3.1" fill="url(#gB)"/>
<circle cx="1022" cy="601.1" r="3.5" fill="url(#gB)"/>
<circle cx="1040.3" cy="600.3" r="3.9" fill="url(#gB)"/>
<circle cx="985.9" cy="537" r="2.7" fill="url(#gB)"/>
<circle cx="1042.3" cy="559.6" r="3" fill="url(#gB)"/>
<circle cx="1005.3" cy="557.3" r="3.5" fill="url(#gB)"/>
<circle cx="1020.5" cy="547.4" r="3.8" fill="url(#gB)"/>
<circle cx="1056.7" cy="583" r="2.8" fill="url(#gB)"/>
<circle cx="1041.5" cy="526.4" r="3.2" fill="url(#gB)"/>
<circle cx="1006.7" cy="579.9" r="3.1" fill="url(#gB)"/>
<circle cx="976.6" cy="558.8" r="3.5" fill="url(#gB)"/>
<circle cx="1019.2" cy="502.3" r="2.9" fill="url(#gB)"/>
<circle cx="1035.6" cy="542" r="2.7" fill="url(#gB)"/>
<circle cx="1056.1" cy="553.9" r="4.1" fill="url(#gB)"/>
<circle cx="956.8" cy="550.6" r="3" fill="url(#gB)"/>
<circle cx="987" cy="565.1" r="2.9" fill="url(#gB)"/>
<circle cx="1031.3" cy="553.9" r="3.2" fill="url(#gB)"/>
<circle cx="969.9" cy="517.3" r="3.1" fill="url(#gB)"/>
<circle cx="1034" cy="596.7" r="3" fill="url(#gB)"/>
<circle cx="1031" cy="593" r="2.7" fill="url(#gB)"/>
<circle cx="984.6" cy="506.2" r="3.3" fill="url(#gB)"/>
<circle cx="1034.9" cy="514.3" r="4.1" fill="url(#gB)"/>
<circle cx="1007" cy="511.9" r="3.2" fill="url(#gB)"/>
<circle cx="989.3" cy="602.2" r="4" fill="url(#gB)"/>
<circle cx="958.7" cy="574.2" r="4.1" fill="url(#gB)"/>
<circle cx="991.7" cy="579.6" r="3" fill="url(#gB)"/>
<circle cx="971.5" cy="593.7" r="3.9" fill="url(#gB)"/>
<circle cx="1050.7" cy="542.1" r="2.7" fill="url(#gB)"/>
<circle cx="993.2" cy="511.3" r="3.1" fill="url(#gB)"/>
<circle cx="1027" cy="587" r="3.3" fill="url(#gB)"/>
<circle cx="1048.7" cy="573.6" r="3.4" fill="url(#gB)"/>
<circle cx="970.2" cy="570.1" r="2.9" fill="url(#gB)"/>
<circle cx="1064.2" cy="550" r="3.6" fill="url(#gB)"/>
<circle cx="990" cy="585.4" r="3" fill="url(#gB)"/>
<circle cx="978.1" cy="564" r="3.1" fill="url(#gB)"/>
<circle cx="1008.2" cy="550.8" r="3.3" fill="url(#gB)"/>
<circle cx="963.8" cy="535.5" r="3.2" fill="url(#gB)"/>
<circle cx="1015.4" cy="551.1" r="3" fill="url(#gB)"/>
<circle cx="977.9" cy="578.2" r="3.1" fill="url(#gB)"/>
<circle cx="962.9" cy="568" r="2.7" fill="url(#gB)"/>
<circle cx="1052.7" cy="587.4" r="3" fill="url(#gB)"/>
<circle cx="1000.5" cy="540.6" r="2.9" fill="url(#gB)"/>
<circle cx="1038.7" cy="576.7" r="3.4" fill="url(#gB)"/>
<circle cx="1012.5" cy="514.5" r="3.7" fill="url(#gB)"/>
<circle cx="1003.8" cy="548.1" r="2.7" fill="url(#gB)"/>
<circle cx="1057.5" cy="564.1" r="3.9" fill="url(#gB)"/>
<circle cx="957.8" cy="559.1" r="3.2" fill="url(#gB)"/>
<circle cx="1047" cy="565.4" r="3.1" fill="url(#gB)"/>
<circle cx="1058.3" cy="578.8" r="2.8" fill="url(#gB)"/>
<circle cx="983.5" cy="546.2" r="2.8" fill="url(#gB)"/>
<circle cx="1027.6" cy="561" r="2.7" fill="url(#gB)"/>
<circle cx="1043.9" cy="532.9" r="3.1" fill="url(#gB)"/>
<circle cx="1064.2" cy="563.7" r="3.2" fill="url(#gB)"/>
<circle cx="1031" cy="605.7" r="2.9" fill="url(#gB)"/>
<circle cx="1014.1" cy="499.5" r="4.1" fill="url(#gB)"/>
<circle cx="997.8" cy="528.7" r="2.9" fill="url(#gB)"/>
<circle cx="977.5" cy="586.5" r="2.7" fill="url(#gB)"/>
<circle cx="1016.4" cy="602.7" r="3.4" fill="url(#gB)"/>
<circle cx="979.1" cy="598" r="3.7" fill="url(#gB)"/>
<circle cx="1040.9" cy="583.9" r="3.8" fill="url(#gB)"/>
<circle cx="1039.7" cy="564.1" r="3.4" fill="url(#gB)"/>
<circle cx="1044.5" cy="595.1" r="3.5" fill="url(#gB)"/>
<circle cx="1024.8" cy="571.4" r="3.5" fill="url(#gB)"/>
<circle cx="1018.6" cy="556.6" r="2.8" fill="url(#gB)"/>
<circle cx="1046.9" cy="520.7" r="2.8" fill="url(#gB)"/>
<circle cx="1056.6" cy="540" r="3.5" fill="url(#gB)"/>
<circle cx="1062.4" cy="535.9" r="4.3" fill="url(#gB)"/>
<circle cx="989.6" cy="571.7" r="3" fill="url(#gB)"/>
<circle cx="975.7" cy="546.8" r="3.6" fill="url(#gB)"/>
<circle cx="1065.9" cy="555" r="3" fill="url(#gB)"/>
<circle cx="1003.6" cy="499.9" r="3.6" fill="url(#gB)"/>
<circle cx="1036.4" cy="528.1" r="2.7" fill="url(#gB)"/>
<circle cx="1014.9" cy="563.5" r="3" fill="url(#gB)"/>
<circle cx="1015.8" cy="520" r="2.7" fill="url(#gB)"/>
<circle cx="967.4" cy="587.5" r="3.2" fill="url(#gB)"/>
<circle cx="1051.1" cy="534" r="2.8" fill="url(#gB)"/>
<circle cx="1056.8" cy="525.2" r="2.9" fill="url(#gB)"/>
<circle cx="974.6" cy="535.6" r="2.7" fill="url(#gB)"/>
<circle cx="1054.8" cy="559.3" r="2.8" fill="url(#gB)"/>
<circle cx="1005.7" cy="542.5" r="3" fill="url(#gB)"/>
<circle cx="1029.1" cy="513.9" r="2.8" fill="url(#gB)"/>
<circle cx="974.6" cy="567.9" r="3" fill="url(#gB)"/>
<circle cx="994.4" cy="532.2" r="2.7" fill="url(#gB)"/>
<circle cx="980.9" cy="555.7" r="2.7" fill="url(#gB)"/>
<circle cx="1005.3" cy="575.1" r="2.8" fill="url(#gB)"/>
<circle cx="996.8" cy="606.9" r="3" fill="url(#gB)"/>
<circle cx="1009.7" cy="609.1" r="3.8" fill="url(#gB)"/>
<circle cx="1001.8" cy="565.6" r="3.2" fill="url(#gB)"/>
<circle cx="966" cy="521.2" r="2.7" fill="url(#gB)"/>
<circle cx="1010.7" cy="589.8" r="2.8" fill="url(#gB)"/>
<circle cx="1043.2" cy="548.1" r="2.8" fill="url(#gB)"/>
<circle cx="998.7" cy="557.3" r="2.7" fill="url(#gB)"/>
<circle cx="1021.8" cy="587.3" r="2.8" fill="url(#gB)"/>
<text x="1065" y="598" font-size="12" fill="#9a9a9a">6</text>

</svg>
</body></html>
